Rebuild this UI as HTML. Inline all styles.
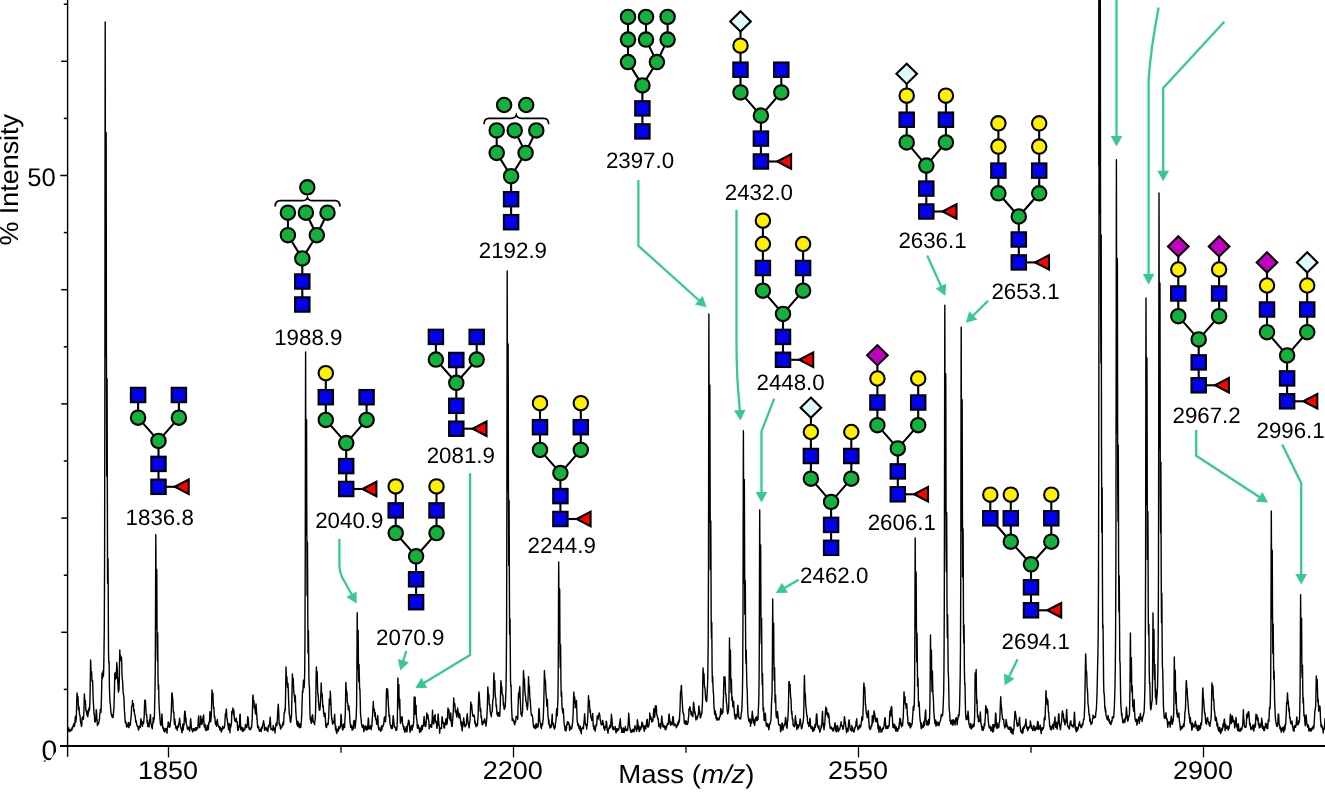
<!DOCTYPE html><html><head><meta charset="utf-8"><title>Mass spectrum</title><style>html,body{margin:0;padding:0;background:#fff}body{width:1325px;height:796px;overflow:hidden}svg{display:block;will-change:transform;opacity:0.9999}text{text-rendering:geometricPrecision;font-family:"Liberation Sans",Arial,Helvetica,sans-serif;fill:#000}</style></head><body>
<svg width="1325" height="796" viewBox="0 0 1325 796">
<rect width="1325" height="796" fill="#fff"/>
<path d="M68.00,731.35 L68.30,730.13 L68.60,727.68 L68.90,729.29 L69.20,730.05 L69.50,731.59 L69.80,731.42 L70.10,730.00 L70.40,730.98 L70.70,730.68 L71.00,729.96 L71.30,729.42 L71.60,728.67 L71.90,730.00 L72.20,727.27 L72.50,727.09 L72.80,728.02 L73.10,725.57 L73.40,726.42 L73.70,723.63 L74.00,724.69 L74.30,726.50 L74.60,725.82 L74.90,722.30 L75.20,718.39 L75.50,716.11 L75.80,722.11 L76.10,719.87 L76.40,715.64 L76.70,702.17 L77.00,693.00 L77.30,694.67 L77.60,701.51 L77.90,700.75 L77.95,696.36 L78.20,702.78 L78.50,709.62 L78.80,706.34 L79.10,707.97 L79.40,712.94 L79.70,715.14 L80.00,715.52 L80.30,720.05 L80.60,722.04 L80.90,723.54 L81.20,724.79 L81.50,726.42 L81.80,725.28 L82.10,718.55 L82.40,716.96 L82.70,717.55 L83.00,718.33 L83.30,719.33 L83.60,717.33 L83.90,712.44 L84.20,699.00 L84.40,694.00 L84.50,696.22 L84.80,701.76 L85.10,701.99 L85.35,701.20 L85.40,700.48 L85.70,708.09 L86.00,710.81 L86.30,710.17 L86.60,712.20 L86.90,715.04 L87.20,710.94 L87.50,713.85 L87.80,716.86 L88.10,713.64 L88.40,713.46 L88.70,710.48 L89.00,707.81 L89.30,710.38 L89.60,708.52 L89.90,702.62 L90.20,687.56 L90.50,665.09 L90.60,660.00 L90.80,664.50 L91.10,674.50 L91.40,672.64 L91.55,671.33 L91.70,673.00 L92.00,681.19 L92.30,681.60 L92.60,680.42 L92.90,690.58 L93.20,699.83 L93.50,703.51 L93.80,710.16 L94.10,714.64 L94.40,714.85 L94.70,721.53 L95.00,719.93 L95.30,721.95 L95.60,720.02 L95.90,719.04 L96.20,709.66 L96.50,711.24 L96.80,717.25 L97.10,720.98 L97.40,725.52 L97.70,723.48 L98.00,724.49 L98.30,723.70 L98.60,723.46 L98.90,722.12 L99.20,719.77 L99.50,718.95 L99.80,713.70 L100.10,713.22 L100.40,709.17 L100.70,710.69 L101.00,712.22 L101.30,703.47 L101.60,691.41 L101.90,677.61 L102.00,673.44 L102.20,672.93 L102.50,678.56 L102.80,674.56 L102.95,672.75 L103.10,670.74 L103.40,676.12 L103.70,669.46 L104.00,652.56 L104.30,627.14 L104.60,557.97 L104.90,359.77 L105.05,158.65 L105.20,22.05 L105.35,130.64 L105.50,292.73 L105.80,356.46 L106.00,217.39 L106.10,143.33 L106.15,132.80 L106.30,239.12 L106.40,339.73 L106.70,476.29 L106.95,418.27 L107.00,398.14 L107.10,378.75 L107.25,445.64 L107.30,473.41 L107.60,583.24 L107.90,570.13 L108.05,558.59 L108.20,585.66 L108.50,652.63 L108.80,662.94 L109.10,661.85 L109.40,686.23 L109.70,695.62 L110.00,702.83 L110.30,703.21 L110.60,708.37 L110.90,711.93 L111.20,714.46 L111.50,714.21 L111.80,716.50 L112.10,714.81 L112.40,716.70 L112.70,717.67 L113.00,717.67 L113.30,715.38 L113.60,711.60 L113.90,708.74 L114.20,699.72 L114.50,687.70 L114.80,673.18 L115.10,677.06 L115.40,679.16 L115.70,673.38 L115.75,672.50 L116.00,676.68 L116.30,678.38 L116.60,667.77 L116.80,662.53 L116.90,665.42 L117.20,667.25 L117.50,673.40 L117.75,682.70 L117.80,677.43 L118.10,687.44 L118.40,691.99 L118.70,690.80 L119.00,689.82 L119.30,679.31 L119.60,659.30 L119.80,650.01 L119.90,652.20 L120.20,659.96 L120.50,660.10 L120.75,657.08 L120.80,655.98 L121.10,660.73 L121.40,659.92 L121.50,657.10 L121.70,661.69 L122.00,674.97 L122.30,678.92 L122.45,679.64 L122.60,681.12 L122.90,687.62 L123.20,693.20 L123.50,694.49 L123.80,695.96 L124.10,702.51 L124.40,710.24 L124.70,713.18 L125.00,718.29 L125.30,722.72 L125.60,721.14 L125.90,722.83 L126.20,723.33 L126.50,726.79 L126.80,725.94 L127.10,726.94 L127.40,724.59 L127.70,725.18 L128.00,725.44 L128.30,722.46 L128.60,727.20 L128.90,727.64 L129.20,723.06 L129.50,725.88 L129.80,724.92 L130.10,725.19 L130.40,724.35 L130.70,719.42 L131.00,717.48 L131.30,714.90 L131.60,706.67 L131.90,706.43 L132.20,705.11 L132.50,700.54 L132.55,702.68 L132.80,705.88 L133.10,705.69 L133.40,703.61 L133.70,711.04 L134.00,711.04 L134.30,709.81 L134.35,711.64 L134.60,714.79 L134.90,715.57 L135.20,715.43 L135.50,719.29 L135.80,722.18 L136.10,720.69 L136.40,722.78 L136.70,723.68 L137.00,725.95 L137.30,725.87 L137.60,726.34 L137.90,726.24 L138.20,728.78 L138.50,730.14 L138.80,727.47 L139.10,728.72 L139.40,726.13 L139.70,726.50 L140.00,727.25 L140.30,727.59 L140.60,722.03 L140.90,718.77 L141.20,720.85 L141.50,721.09 L141.80,724.57 L142.10,724.61 L142.40,726.45 L142.70,724.20 L143.00,721.65 L143.30,723.73 L143.60,723.52 L143.90,719.73 L144.20,716.57 L144.50,706.16 L144.70,700.42 L144.80,701.52 L145.10,699.95 L145.40,701.00 L145.65,703.69 L145.70,706.35 L146.00,711.29 L146.30,714.86 L146.60,714.05 L146.90,718.29 L147.20,723.31 L147.50,720.63 L147.80,726.45 L148.10,723.87 L148.40,724.26 L148.70,724.99 L149.00,726.96 L149.30,723.19 L149.60,719.41 L149.90,720.53 L150.20,716.84 L150.50,714.41 L150.80,722.82 L151.10,723.94 L151.40,725.19 L151.70,727.06 L152.00,726.72 L152.30,728.80 L152.60,724.10 L152.90,723.78 L153.20,717.69 L153.50,722.34 L153.80,720.13 L154.10,719.18 L154.40,716.46 L154.70,703.81 L155.00,689.64 L155.30,665.87 L155.60,589.40 L155.65,570.01 L155.80,534.60 L155.90,549.46 L155.95,565.48 L156.20,628.55 L156.50,616.82 L156.60,593.30 L156.75,569.40 L156.80,574.83 L156.90,597.60 L157.10,643.63 L157.40,661.08 L157.55,645.78 L157.70,632.72 L157.85,652.82 L158.00,675.48 L158.30,689.53 L158.50,689.00 L158.60,684.77 L158.65,685.49 L158.80,692.80 L158.90,699.40 L159.20,708.45 L159.50,711.59 L159.80,715.70 L160.10,720.86 L160.40,723.98 L160.70,724.61 L161.00,725.60 L161.30,723.04 L161.60,720.55 L161.90,714.02 L162.20,718.15 L162.50,724.37 L162.80,728.41 L163.10,727.13 L163.40,727.48 L163.70,730.77 L164.00,728.57 L164.30,729.87 L164.60,731.99 L164.90,729.81 L165.20,731.27 L165.50,728.39 L165.80,729.10 L166.10,728.79 L166.40,728.97 L166.70,730.70 L167.00,733.26 L167.30,728.37 L167.60,726.46 L167.90,726.63 L168.20,721.96 L168.50,722.48 L168.80,725.10 L169.10,725.63 L169.40,727.38 L169.70,724.12 L170.00,726.74 L170.30,722.70 L170.60,721.58 L170.90,718.92 L171.20,713.38 L171.50,704.66 L171.80,693.00 L172.10,693.18 L172.40,696.86 L172.70,699.99 L172.75,698.51 L173.00,704.60 L173.30,712.15 L173.60,711.92 L173.90,711.94 L174.20,721.76 L174.50,724.30 L174.80,718.91 L175.10,722.69 L175.40,725.07 L175.70,727.26 L176.00,728.44 L176.30,727.69 L176.60,726.33 L176.90,728.08 L177.20,730.30 L177.50,727.24 L177.80,726.33 L178.10,727.60 L178.40,724.20 L178.70,725.23 L179.00,723.38 L179.30,721.27 L179.60,718.10 L179.90,720.91 L180.20,724.63 L180.50,727.00 L180.80,726.95 L181.10,728.30 L181.40,730.09 L181.70,731.42 L182.00,732.71 L182.30,728.67 L182.60,727.96 L182.90,723.91 L183.20,730.00 L183.50,726.59 L183.80,725.64 L184.10,724.09 L184.40,715.99 L184.70,711.50 L185.00,711.05 L185.30,713.35 L185.60,719.38 L185.90,722.47 L185.95,718.01 L186.20,723.01 L186.50,724.66 L186.80,725.43 L187.10,726.38 L187.40,729.06 L187.70,727.22 L188.00,728.90 L188.30,727.66 L188.60,729.33 L188.90,727.17 L189.20,727.86 L189.50,731.12 L189.80,729.31 L190.10,726.56 L190.40,721.69 L190.70,718.75 L191.00,722.26 L191.30,727.34 L191.60,728.83 L191.90,729.82 L192.20,729.35 L192.50,731.79 L192.80,729.56 L193.10,728.67 L193.40,730.97 L193.70,730.23 L194.00,729.43 L194.30,728.67 L194.60,728.99 L194.90,730.61 L195.20,730.59 L195.50,727.81 L195.80,729.77 L196.10,729.84 L196.40,727.67 L196.70,729.94 L197.00,728.54 L197.30,727.55 L197.60,728.41 L197.90,727.98 L198.20,721.23 L198.50,717.23 L198.80,715.89 L199.10,725.59 L199.40,724.87 L199.70,727.63 L200.00,724.45 L200.30,724.08 L200.60,723.89 L200.70,715.97 L200.90,718.07 L201.20,721.67 L201.50,720.71 L201.65,719.40 L201.80,724.51 L202.10,723.69 L202.40,719.70 L202.70,721.91 L203.00,716.77 L203.30,716.84 L203.60,714.99 L203.90,720.90 L204.20,726.63 L204.50,727.04 L204.80,725.15 L205.10,724.46 L205.40,729.48 L205.70,730.34 L206.00,727.94 L206.30,730.17 L206.60,730.19 L206.90,730.41 L207.20,725.31 L207.50,727.07 L207.80,729.50 L208.10,729.62 L208.40,729.44 L208.70,722.74 L209.00,723.89 L209.30,722.00 L209.60,720.23 L209.90,711.78 L210.20,715.61 L210.50,719.63 L210.80,721.79 L211.10,717.76 L211.40,714.10 L211.70,699.67 L212.00,690.00 L212.30,694.10 L212.60,698.61 L212.90,695.01 L212.95,693.25 L213.20,702.63 L213.50,708.37 L213.80,707.34 L214.10,711.53 L214.40,717.83 L214.70,716.28 L215.00,718.64 L215.30,722.75 L215.60,724.37 L215.90,723.74 L216.20,721.33 L216.50,726.39 L216.80,725.16 L217.10,721.83 L217.40,719.48 L217.70,723.24 L218.00,725.21 L218.30,725.44 L218.60,726.37 L218.90,727.12 L219.20,727.48 L219.50,726.73 L219.80,729.72 L220.10,727.24 L220.40,729.98 L220.70,727.90 L221.00,729.67 L221.30,731.98 L221.60,730.61 L221.90,728.55 L222.20,729.24 L222.50,729.55 L222.80,726.24 L223.10,727.06 L223.40,728.44 L223.70,727.41 L224.00,727.52 L224.30,727.77 L224.60,726.13 L224.90,722.54 L225.20,716.68 L225.30,714.00 L225.50,714.17 L225.80,714.17 L226.10,710.62 L226.25,710.01 L226.40,708.86 L226.70,715.81 L227.00,719.25 L227.30,719.36 L227.60,722.94 L227.90,725.37 L228.20,725.05 L228.50,729.83 L228.80,723.42 L229.10,725.75 L229.40,723.98 L229.70,728.53 L230.00,732.75 L230.30,724.76 L230.60,726.52 L230.90,726.96 L231.20,724.20 L231.50,722.05 L231.80,711.57 L232.10,710.99 L232.40,712.33 L232.70,710.23 L232.90,707.99 L233.00,710.46 L233.30,713.15 L233.60,714.76 L233.85,713.34 L233.90,710.25 L234.20,716.42 L234.50,719.30 L234.80,720.68 L235.10,719.90 L235.40,721.43 L235.70,721.65 L236.00,719.16 L236.30,718.09 L236.60,721.73 L236.90,721.83 L237.20,721.77 L237.50,727.25 L237.80,730.38 L238.10,730.38 L238.40,730.17 L238.70,727.37 L239.00,725.82 L239.30,727.02 L239.60,721.83 L239.90,714.79 L240.20,714.13 L240.50,725.17 L240.80,729.77 L241.10,727.37 L241.40,726.98 L241.70,728.81 L242.00,727.81 L242.30,731.23 L242.60,729.90 L242.90,727.79 L243.20,731.38 L243.50,729.17 L243.80,729.92 L244.10,729.76 L244.40,729.14 L244.70,730.05 L245.00,728.49 L245.30,725.94 L245.60,724.43 L245.90,725.44 L246.20,726.39 L246.50,727.56 L246.80,727.32 L247.10,726.70 L247.40,722.94 L247.70,716.79 L248.00,717.35 L248.30,719.18 L248.60,724.52 L248.90,727.74 L249.20,729.01 L249.50,728.34 L249.80,728.04 L250.10,729.81 L250.40,728.57 L250.70,729.18 L251.00,728.68 L251.30,727.23 L251.60,727.64 L251.90,722.71 L252.20,718.31 L252.50,709.71 L252.80,696.76 L253.00,695.04 L253.10,696.83 L253.40,700.63 L253.70,701.15 L253.95,700.73 L254.00,700.87 L254.30,707.97 L254.60,706.84 L254.90,706.32 L255.20,711.13 L255.50,713.93 L255.80,708.08 L256.00,704.06 L256.10,704.76 L256.40,709.87 L256.70,713.59 L256.95,719.81 L257.00,717.83 L257.30,721.62 L257.60,727.42 L257.90,727.74 L258.20,727.33 L258.50,726.09 L258.80,727.62 L259.10,730.65 L259.40,730.16 L259.70,731.22 L260.00,729.70 L260.30,730.16 L260.60,729.11 L260.90,729.90 L261.20,731.58 L261.50,727.22 L261.80,728.12 L262.10,728.57 L262.40,726.64 L262.70,725.25 L263.00,724.15 L263.30,722.31 L263.60,720.75 L263.90,724.33 L264.20,723.82 L264.50,730.38 L264.80,729.45 L265.10,729.19 L265.40,727.36 L265.70,728.75 L266.00,727.42 L266.30,729.06 L266.60,730.28 L266.90,729.88 L267.20,730.18 L267.50,728.21 L267.80,731.56 L268.10,728.82 L268.40,725.80 L268.70,727.47 L269.00,726.48 L269.30,724.82 L269.60,723.59 L269.90,721.14 L270.20,717.10 L270.50,721.89 L270.80,728.21 L271.10,729.48 L271.40,728.75 L271.70,729.22 L272.00,729.05 L272.30,729.21 L272.60,730.65 L272.90,729.66 L273.20,725.33 L273.50,728.20 L273.80,727.52 L274.10,729.98 L274.40,728.46 L274.70,729.27 L275.00,732.98 L275.30,728.34 L275.60,726.68 L275.90,725.45 L276.20,723.02 L276.50,722.72 L276.80,725.78 L277.10,723.58 L277.40,718.17 L277.70,712.21 L278.00,707.75 L278.30,704.16 L278.60,710.32 L278.90,716.01 L278.95,718.80 L279.20,723.63 L279.50,725.11 L279.80,724.00 L280.10,724.60 L280.40,728.51 L280.70,729.05 L281.00,726.45 L281.30,727.46 L281.60,727.46 L281.90,727.01 L282.20,725.97 L282.50,724.01 L282.80,724.38 L283.10,722.02 L283.40,724.93 L283.70,722.43 L284.00,714.62 L284.30,712.49 L284.60,712.73 L284.90,709.03 L285.20,710.38 L285.50,698.98 L285.80,681.22 L286.00,667.01 L286.10,669.01 L286.40,679.71 L286.70,679.90 L286.95,677.04 L287.00,679.21 L287.30,684.99 L287.60,687.44 L287.90,683.10 L288.20,687.80 L288.50,697.04 L288.80,704.58 L289.10,710.88 L289.40,715.20 L289.70,715.63 L290.00,717.38 L290.30,721.57 L290.60,722.42 L290.90,720.61 L291.20,717.39 L291.50,715.81 L291.80,703.88 L292.10,688.17 L292.40,674.00 L292.70,679.01 L293.00,685.22 L293.30,678.56 L293.35,681.58 L293.60,688.13 L293.90,692.55 L294.20,695.19 L294.50,696.04 L294.80,701.87 L295.10,695.26 L295.40,697.63 L295.70,708.69 L296.00,714.00 L296.30,718.30 L296.60,720.38 L296.90,724.32 L297.20,724.89 L297.50,725.78 L297.80,721.08 L298.10,726.64 L298.40,726.38 L298.70,723.11 L299.00,725.34 L299.30,726.53 L299.60,727.73 L299.90,724.03 L300.20,727.15 L300.50,724.52 L300.80,727.38 L301.10,722.59 L301.40,720.65 L301.70,714.84 L302.00,705.39 L302.30,696.28 L302.50,690.59 L302.60,691.24 L302.90,692.32 L303.20,685.29 L303.45,680.28 L303.50,681.77 L303.80,687.98 L304.10,687.75 L304.40,682.99 L304.70,671.41 L305.00,636.31 L305.30,530.21 L305.45,424.37 L305.60,352.01 L305.75,413.06 L305.90,502.05 L306.20,535.30 L306.40,459.49 L306.50,425.51 L306.55,419.69 L306.70,475.66 L306.80,524.50 L307.10,595.87 L307.35,563.44 L307.40,550.22 L307.50,541.96 L307.65,577.40 L307.70,594.86 L308.00,653.08 L308.30,640.99 L308.45,630.60 L308.60,646.86 L308.90,677.73 L309.20,685.51 L309.50,688.87 L309.80,708.31 L310.10,716.57 L310.40,719.86 L310.70,719.89 L311.00,721.83 L311.30,723.36 L311.60,721.09 L311.90,716.90 L312.20,716.71 L312.50,714.80 L312.80,716.96 L313.10,722.06 L313.40,721.79 L313.70,722.74 L314.00,722.46 L314.30,723.42 L314.60,724.57 L314.90,720.07 L315.20,719.90 L315.50,713.57 L315.80,699.77 L316.10,678.15 L316.30,670.04 L316.40,667.00 L316.70,674.08 L317.00,671.53 L317.25,673.25 L317.30,676.66 L317.60,688.86 L317.90,694.98 L318.20,694.78 L318.50,702.08 L318.80,704.43 L319.10,708.82 L319.40,710.06 L319.70,710.36 L320.00,708.89 L320.30,704.86 L320.60,700.03 L320.90,692.89 L321.20,682.94 L321.30,685.60 L321.50,691.03 L321.80,696.39 L322.10,693.69 L322.25,694.36 L322.40,697.32 L322.70,706.09 L323.00,707.20 L323.30,705.58 L323.60,713.12 L323.90,712.71 L324.20,716.46 L324.50,714.57 L324.80,713.28 L325.10,713.22 L325.40,718.14 L325.70,724.94 L326.00,726.96 L326.30,727.51 L326.60,727.35 L326.90,724.06 L327.20,724.75 L327.50,724.64 L327.80,723.32 L328.10,724.56 L328.40,720.99 L328.70,716.56 L329.00,708.42 L329.30,699.07 L329.60,703.72 L329.90,704.62 L330.00,701.62 L330.20,695.69 L330.25,691.30 L330.50,694.00 L330.80,700.53 L330.95,702.98 L331.10,706.96 L331.40,714.64 L331.70,719.06 L332.00,718.17 L332.30,722.04 L332.60,724.21 L332.90,721.12 L333.20,722.60 L333.50,721.63 L333.80,723.03 L334.10,722.89 L334.40,716.99 L334.70,714.20 L335.00,723.47 L335.30,726.39 L335.60,729.82 L335.90,726.32 L336.20,729.67 L336.50,732.60 L336.80,733.46 L337.10,729.91 L337.40,729.69 L337.70,728.89 L338.00,730.65 L338.30,731.21 L338.60,729.63 L338.90,726.50 L339.20,729.05 L339.50,727.38 L339.80,728.28 L340.10,726.96 L340.40,727.09 L340.70,722.63 L341.00,714.21 L341.30,716.27 L341.60,724.52 L341.90,724.62 L342.20,726.91 L342.50,729.18 L342.80,730.08 L343.10,728.98 L343.40,725.24 L343.70,723.86 L344.00,725.52 L344.30,725.37 L344.60,727.61 L344.90,719.70 L345.20,715.80 L345.50,704.27 L345.80,684.61 L345.90,682.40 L346.10,686.80 L346.40,693.04 L346.70,691.29 L346.85,691.99 L347.00,692.89 L347.30,702.56 L347.60,702.67 L347.90,703.45 L348.20,709.78 L348.50,708.42 L348.80,705.79 L349.10,707.48 L349.40,711.61 L349.70,716.78 L350.00,722.45 L350.30,723.74 L350.60,727.39 L350.90,724.77 L351.20,727.58 L351.50,726.60 L351.80,725.86 L352.10,730.12 L352.40,726.68 L352.70,729.96 L353.00,728.52 L353.30,728.56 L353.60,722.41 L353.90,721.16 L354.20,720.36 L354.50,721.12 L354.80,723.00 L355.10,728.21 L355.40,725.31 L355.70,722.32 L356.00,718.98 L356.30,715.61 L356.60,704.15 L356.90,670.00 L357.05,639.05 L357.20,612.80 L357.35,631.88 L357.50,661.33 L357.80,668.46 L358.00,647.25 L358.10,636.94 L358.15,630.31 L358.30,645.99 L358.40,662.22 L358.70,681.49 L358.95,672.44 L359.00,665.44 L359.10,664.42 L359.25,674.91 L359.30,674.45 L359.60,689.27 L359.90,688.78 L360.05,693.63 L360.20,699.50 L360.50,713.09 L360.80,716.80 L361.10,719.22 L361.40,723.01 L361.70,725.53 L362.00,725.75 L362.30,727.32 L362.60,725.80 L362.90,727.71 L363.20,724.94 L363.50,726.75 L363.80,731.60 L364.10,729.92 L364.40,727.13 L364.70,728.99 L365.00,727.43 L365.30,725.79 L365.60,726.92 L365.90,729.79 L366.20,730.02 L366.50,729.15 L366.80,727.29 L367.10,726.21 L367.40,729.67 L367.70,727.82 L368.00,723.32 L368.30,717.97 L368.60,719.48 L368.90,729.04 L369.20,726.29 L369.50,727.60 L369.80,728.60 L370.10,728.26 L370.40,727.87 L370.70,725.68 L371.00,725.36 L371.30,729.63 L371.60,725.94 L371.90,726.48 L372.20,720.00 L372.50,716.36 L372.80,710.35 L373.10,706.09 L373.30,701.49 L373.40,704.52 L373.70,710.33 L374.00,709.53 L374.25,710.62 L374.30,709.03 L374.60,712.96 L374.90,716.41 L375.20,712.34 L375.50,718.20 L375.80,719.52 L376.10,718.80 L376.40,721.25 L376.70,724.27 L377.00,721.74 L377.30,721.49 L377.60,715.44 L377.90,717.15 L378.20,725.92 L378.50,727.61 L378.80,729.56 L379.10,727.35 L379.40,729.74 L379.70,729.62 L380.00,730.35 L380.30,729.53 L380.60,731.38 L380.90,728.69 L381.20,727.30 L381.50,725.93 L381.80,730.06 L382.10,727.88 L382.40,726.53 L382.70,726.08 L383.00,726.46 L383.30,724.56 L383.60,724.66 L383.90,722.12 L384.20,718.56 L384.50,716.94 L384.80,720.91 L385.10,721.60 L385.40,721.71 L385.70,719.43 L386.00,713.65 L386.30,697.73 L386.60,688.60 L386.90,692.71 L387.20,697.39 L387.50,688.89 L387.55,688.93 L387.80,691.77 L388.10,698.71 L388.40,705.41 L388.70,709.08 L389.00,716.60 L389.30,714.89 L389.60,715.21 L389.90,722.95 L390.20,724.41 L390.50,725.52 L390.80,726.40 L391.10,727.85 L391.40,725.50 L391.70,728.60 L392.00,726.77 L392.30,728.42 L392.60,726.36 L392.90,720.03 L393.20,715.77 L393.50,718.25 L393.80,721.45 L394.10,724.20 L394.40,726.84 L394.70,726.78 L395.00,726.71 L395.30,727.85 L395.60,728.19 L395.90,730.50 L396.20,728.27 L396.50,730.21 L396.80,729.46 L397.10,726.62 L397.40,718.24 L397.70,694.98 L397.75,689.05 L397.90,678.00 L398.00,680.74 L398.05,685.80 L398.30,701.92 L398.60,701.89 L398.70,694.77 L398.85,686.64 L398.90,684.64 L399.00,693.33 L399.20,706.26 L399.50,708.62 L399.65,704.16 L399.80,699.21 L399.95,708.11 L400.10,714.41 L400.40,723.55 L400.60,718.78 L400.70,716.57 L400.75,718.92 L400.90,719.27 L401.00,720.60 L401.30,721.42 L401.60,718.03 L401.90,718.13 L402.20,716.96 L402.50,723.04 L402.80,724.35 L403.10,726.44 L403.40,726.00 L403.70,729.44 L404.00,726.55 L404.30,729.26 L404.60,731.10 L404.90,732.27 L405.20,728.54 L405.50,731.01 L405.80,728.57 L406.10,727.71 L406.40,726.37 L406.70,730.14 L407.00,731.86 L407.30,727.96 L407.60,725.57 L407.90,723.72 L408.20,724.66 L408.50,720.13 L408.80,720.44 L409.10,721.50 L409.40,724.75 L409.70,729.42 L410.00,732.27 L410.30,729.54 L410.60,728.05 L410.90,727.96 L411.20,725.52 L411.50,729.64 L411.80,727.33 L412.10,730.25 L412.40,726.03 L412.70,725.17 L413.00,727.00 L413.30,724.46 L413.60,723.44 L413.90,713.08 L414.05,701.24 L414.20,697.00 L414.35,703.25 L414.50,706.42 L414.80,714.21 L415.00,706.18 L415.10,702.48 L415.15,697.25 L415.30,701.72 L415.40,706.48 L415.70,713.56 L415.95,708.08 L416.00,707.45 L416.10,705.44 L416.25,712.01 L416.30,715.54 L416.60,718.90 L416.90,719.97 L417.05,721.81 L417.20,725.93 L417.50,728.21 L417.80,726.83 L418.10,724.96 L418.40,726.07 L418.70,727.07 L419.00,728.89 L419.30,729.17 L419.60,732.30 L419.90,730.85 L420.20,728.05 L420.50,731.76 L420.80,731.84 L421.10,730.33 L421.40,728.38 L421.70,725.69 L422.00,726.23 L422.30,729.57 L422.60,727.25 L422.90,725.12 L423.20,726.15 L423.50,724.67 L423.80,721.22 L424.10,716.57 L424.40,720.12 L424.70,721.54 L425.00,726.31 L425.30,724.48 L425.60,726.54 L425.90,725.24 L426.20,722.71 L426.50,718.94 L426.80,713.00 L427.10,716.81 L427.40,718.43 L427.70,716.12 L427.75,714.60 L428.00,716.04 L428.30,718.71 L428.60,719.52 L428.90,721.39 L429.20,728.76 L429.50,726.83 L429.80,726.98 L430.10,725.06 L430.40,724.78 L430.70,725.40 L431.00,726.64 L431.30,724.48 L431.60,727.40 L431.90,722.17 L432.20,719.27 L432.50,710.30 L432.80,716.76 L433.10,722.13 L433.40,723.83 L433.70,723.98 L434.00,720.85 L434.30,717.79 L434.60,715.78 L434.90,717.88 L435.20,714.69 L435.25,719.18 L435.50,721.46 L435.80,722.45 L436.10,721.22 L436.40,722.06 L436.70,727.35 L437.00,728.29 L437.30,724.94 L437.60,725.19 L437.90,717.33 L438.20,713.88 L438.50,719.67 L438.80,722.87 L439.10,725.08 L439.40,727.38 L439.70,733.19 L440.00,728.54 L440.30,728.33 L440.60,728.48 L440.90,727.61 L441.20,728.31 L441.50,728.52 L441.80,720.35 L442.10,716.79 L442.40,717.48 L442.70,723.11 L443.00,722.93 L443.30,723.00 L443.60,722.30 L443.90,727.17 L444.20,728.04 L444.50,728.01 L444.80,723.46 L445.10,725.08 L445.40,723.91 L445.70,720.53 L446.00,718.59 L446.30,722.40 L446.60,724.63 L446.90,723.90 L447.20,723.02 L447.50,717.28 L447.80,711.01 L448.00,708.00 L448.10,709.09 L448.40,711.86 L448.70,711.65 L448.95,710.64 L449.00,709.96 L449.30,718.21 L449.60,718.05 L449.90,716.72 L450.20,720.44 L450.50,718.71 L450.80,712.93 L451.10,719.07 L451.40,723.07 L451.70,726.29 L452.00,726.48 L452.30,725.45 L452.60,720.68 L452.90,717.40 L453.20,713.50 L453.50,704.78 L453.70,698.00 L453.80,698.59 L454.10,703.59 L454.40,704.65 L454.65,704.09 L454.70,703.54 L455.00,706.35 L455.30,711.84 L455.60,712.13 L455.90,710.32 L456.20,713.40 L456.50,714.97 L456.80,717.09 L457.10,716.53 L457.40,710.07 L457.70,708.00 L458.00,712.46 L458.30,711.47 L458.60,714.39 L458.65,715.84 L458.90,717.30 L459.20,718.09 L459.50,713.79 L459.80,714.01 L460.10,717.59 L460.40,719.06 L460.70,722.02 L461.00,723.81 L461.30,725.86 L461.60,722.00 L461.90,728.86 L462.20,730.90 L462.50,727.18 L462.80,726.54 L463.10,724.26 L463.40,720.32 L463.70,717.88 L464.00,721.09 L464.30,722.64 L464.60,725.39 L464.90,726.07 L465.20,726.90 L465.50,724.97 L465.80,725.64 L466.10,725.23 L466.40,724.85 L466.70,719.30 L467.00,715.76 L467.30,713.81 L467.60,718.23 L467.90,721.15 L468.20,722.74 L468.50,723.97 L468.80,726.05 L469.10,727.85 L469.40,724.85 L469.70,722.03 L470.00,720.88 L470.30,716.07 L470.60,705.98 L470.80,702.00 L470.90,703.19 L471.20,709.02 L471.50,706.51 L471.75,705.05 L471.80,707.85 L472.10,709.87 L472.40,713.60 L472.70,714.52 L473.00,716.41 L473.30,716.03 L473.60,716.20 L473.90,714.86 L474.20,716.03 L474.50,717.30 L474.80,723.09 L475.10,721.04 L475.40,723.47 L475.70,724.71 L476.00,726.73 L476.30,724.49 L476.60,725.61 L476.90,723.59 L477.20,724.59 L477.50,725.52 L477.80,720.07 L478.10,716.13 L478.40,705.15 L478.70,695.23 L478.80,693.68 L479.00,691.94 L479.30,695.87 L479.60,699.83 L479.75,702.51 L479.90,705.51 L480.20,711.21 L480.50,708.18 L480.80,710.12 L481.10,717.76 L481.40,716.04 L481.70,719.93 L482.00,724.19 L482.30,724.17 L482.60,724.89 L482.90,723.27 L483.20,721.55 L483.50,722.80 L483.80,722.30 L484.10,720.85 L484.40,719.57 L484.70,718.64 L485.00,721.41 L485.30,723.34 L485.60,723.17 L485.90,726.04 L486.20,723.80 L486.50,721.30 L486.80,717.86 L487.10,711.93 L487.40,705.49 L487.70,691.51 L487.80,687.00 L488.00,689.34 L488.30,695.84 L488.60,693.74 L488.75,695.91 L488.90,695.10 L489.20,703.83 L489.50,705.29 L489.80,704.27 L490.10,710.35 L490.40,712.47 L490.70,714.17 L491.00,714.94 L491.30,716.71 L491.60,712.85 L491.90,711.74 L492.20,711.49 L492.50,705.85 L492.80,700.25 L493.10,699.89 L493.40,697.32 L493.70,678.62 L493.90,673.00 L494.00,676.48 L494.30,686.35 L494.60,684.66 L494.85,680.77 L494.90,686.59 L495.20,694.75 L495.50,697.24 L495.80,698.84 L496.10,706.23 L496.40,704.84 L496.70,710.61 L497.00,714.10 L497.30,711.88 L497.60,715.89 L497.90,712.69 L498.20,716.09 L498.50,712.82 L498.80,713.56 L499.10,712.46 L499.40,714.75 L499.70,716.39 L500.00,711.27 L500.30,703.92 L500.60,691.59 L500.90,680.60 L501.20,684.14 L501.50,689.76 L501.80,687.23 L501.85,686.65 L502.10,693.69 L502.40,694.69 L502.70,694.71 L503.00,696.65 L503.30,704.99 L503.60,702.88 L503.90,707.07 L504.20,709.43 L504.50,709.10 L504.80,708.00 L505.10,707.36 L505.40,704.06 L505.70,695.86 L506.00,687.83 L506.30,668.78 L506.60,623.15 L506.90,489.93 L507.05,360.44 L507.20,271.00 L507.35,341.46 L507.50,447.35 L507.80,490.82 L508.00,397.86 L508.10,349.64 L508.15,343.84 L508.30,408.66 L508.40,474.42 L508.70,565.37 L508.95,523.41 L509.00,510.28 L509.10,500.31 L509.25,541.74 L509.30,560.71 L509.60,634.23 L509.90,625.70 L510.05,619.05 L510.20,639.66 L510.50,679.74 L510.80,686.12 L511.10,685.19 L511.40,701.65 L511.70,710.27 L512.00,716.09 L512.30,720.67 L512.60,718.06 L512.90,720.57 L513.20,719.73 L513.50,720.02 L513.80,721.15 L514.10,723.33 L514.40,723.19 L514.70,724.78 L515.00,721.23 L515.30,722.87 L515.60,722.20 L515.90,718.21 L516.20,716.43 L516.50,716.53 L516.80,716.88 L517.10,717.84 L517.40,716.42 L517.70,719.43 L518.00,708.87 L518.30,700.41 L518.50,693.41 L518.60,693.00 L518.90,697.77 L519.20,692.89 L519.45,689.63 L519.50,688.71 L519.80,686.41 L520.10,696.04 L520.40,702.35 L520.70,708.72 L521.00,714.58 L521.30,712.64 L521.60,714.95 L521.90,716.48 L522.20,712.60 L522.50,712.86 L522.80,703.34 L523.10,689.77 L523.40,675.16 L523.50,670.50 L523.70,674.88 L524.00,680.74 L524.30,680.62 L524.45,678.65 L524.60,684.09 L524.90,690.85 L525.20,695.25 L525.50,695.76 L525.80,700.84 L526.10,700.91 L526.40,702.74 L526.70,706.15 L527.00,706.21 L527.30,709.74 L527.60,707.74 L527.90,702.98 L528.20,692.19 L528.50,676.80 L528.80,684.04 L529.10,688.99 L529.40,685.86 L529.45,688.34 L529.70,694.30 L530.00,699.87 L530.30,699.89 L530.60,706.67 L530.90,710.31 L531.20,713.55 L531.50,715.63 L531.80,714.42 L532.10,715.20 L532.40,716.33 L532.70,717.67 L533.00,721.77 L533.30,724.99 L533.60,727.10 L533.90,725.69 L534.20,725.83 L534.50,727.79 L534.80,726.42 L535.10,728.70 L535.40,724.80 L535.70,727.60 L536.00,727.00 L536.30,723.66 L536.60,727.76 L536.90,727.72 L537.20,727.01 L537.50,724.57 L537.80,724.38 L538.10,726.81 L538.40,721.53 L538.70,711.48 L539.00,708.42 L539.30,710.11 L539.60,718.09 L539.90,721.86 L540.20,722.75 L540.50,723.44 L540.80,727.10 L541.10,723.83 L541.40,728.69 L541.70,725.55 L542.00,723.28 L542.30,725.32 L542.60,724.68 L542.90,720.30 L543.20,719.83 L543.50,711.03 L543.80,701.87 L544.10,687.86 L544.40,670.50 L544.70,675.54 L545.00,683.09 L545.30,680.80 L545.35,679.81 L545.60,683.75 L545.90,693.40 L546.20,695.23 L546.50,699.93 L546.80,706.38 L547.10,700.76 L547.40,699.36 L547.70,708.26 L548.00,716.68 L548.30,717.22 L548.60,723.64 L548.90,719.63 L549.20,725.26 L549.50,724.75 L549.80,726.83 L550.10,727.99 L550.40,725.10 L550.70,726.07 L551.00,726.69 L551.30,726.95 L551.60,723.21 L551.90,719.65 L552.20,714.30 L552.50,722.71 L552.80,723.68 L553.10,724.94 L553.40,723.45 L553.70,727.43 L554.00,726.06 L554.30,729.02 L554.60,728.70 L554.90,726.85 L555.20,727.04 L555.50,723.09 L555.80,721.93 L556.10,718.62 L556.40,711.90 L556.70,708.64 L557.00,710.90 L557.30,715.89 L557.60,706.28 L557.90,700.56 L558.20,678.01 L558.50,610.39 L558.55,594.95 L558.70,562.00 L558.80,574.39 L558.85,587.20 L559.10,643.28 L559.40,631.38 L559.50,607.21 L559.65,588.96 L559.70,591.28 L559.80,611.87 L560.00,655.90 L560.30,668.04 L560.45,655.40 L560.60,644.63 L560.75,660.31 L560.90,679.27 L561.20,696.25 L561.40,692.78 L561.50,691.95 L561.55,691.69 L561.70,694.99 L561.80,700.82 L562.10,709.14 L562.40,708.85 L562.70,712.85 L563.00,711.63 L563.30,708.68 L563.60,715.10 L563.90,719.21 L564.20,724.57 L564.50,725.86 L564.80,727.17 L565.10,730.43 L565.40,727.04 L565.70,726.12 L566.00,730.85 L566.30,729.46 L566.60,727.05 L566.90,724.03 L567.20,723.80 L567.50,721.59 L567.80,724.25 L568.10,722.89 L568.40,722.20 L568.70,722.39 L569.00,723.96 L569.30,725.09 L569.60,730.39 L569.90,725.69 L570.20,727.71 L570.50,728.03 L570.80,729.07 L571.10,727.43 L571.40,728.27 L571.70,728.70 L572.00,726.57 L572.30,724.49 L572.60,722.84 L572.90,718.24 L573.20,712.92 L573.50,701.52 L573.80,692.00 L574.10,698.83 L574.40,702.57 L574.70,697.04 L574.75,698.10 L575.00,702.32 L575.30,707.68 L575.60,705.30 L575.90,705.00 L576.20,702.14 L576.50,700.41 L576.80,710.51 L577.10,719.49 L577.40,722.55 L577.70,724.15 L578.00,725.85 L578.30,725.92 L578.60,724.06 L578.90,728.07 L579.20,728.68 L579.50,727.69 L579.80,726.79 L580.10,730.52 L580.40,726.31 L580.70,731.31 L581.00,730.86 L581.30,733.75 L581.60,729.19 L581.90,728.99 L582.20,727.99 L582.50,728.71 L582.80,728.08 L583.10,726.59 L583.40,728.74 L583.70,725.02 L584.00,722.18 L584.30,719.11 L584.60,713.62 L584.90,717.12 L585.20,723.17 L585.50,724.71 L585.80,723.99 L586.10,725.83 L586.40,726.03 L586.70,729.06 L587.00,724.33 L587.30,725.23 L587.60,720.01 L587.90,714.43 L588.20,704.06 L588.50,695.70 L588.80,701.38 L589.10,706.37 L589.40,700.62 L589.45,703.13 L589.70,707.72 L590.00,712.40 L590.30,709.88 L590.60,714.62 L590.90,717.21 L591.20,718.45 L591.50,718.23 L591.80,720.53 L592.10,719.85 L592.40,715.99 L592.70,713.54 L593.00,720.86 L593.30,726.51 L593.60,724.98 L593.90,729.26 L594.20,725.93 L594.50,728.39 L594.80,729.30 L595.10,731.13 L595.40,729.49 L595.70,727.47 L596.00,725.94 L596.30,724.00 L596.60,725.62 L596.90,721.76 L597.20,716.00 L597.50,717.11 L597.80,718.46 L598.10,719.10 L598.40,716.08 L598.70,714.58 L598.80,714.62 L599.00,713.31 L599.30,713.00 L599.60,714.60 L599.75,714.81 L599.90,716.54 L600.20,720.36 L600.50,719.76 L600.80,722.19 L601.10,724.76 L601.40,724.65 L601.70,723.44 L602.00,723.52 L602.30,724.90 L602.60,720.44 L602.90,721.24 L603.20,723.23 L603.50,723.93 L603.80,728.06 L604.10,728.41 L604.40,728.71 L604.70,730.27 L605.00,726.46 L605.30,727.49 L605.60,727.74 L605.90,727.33 L606.20,721.29 L606.50,721.67 L606.80,724.29 L607.10,729.00 L607.40,730.64 L607.70,730.39 L608.00,733.27 L608.30,730.43 L608.60,728.87 L608.90,728.52 L609.20,727.28 L609.50,728.36 L609.80,725.16 L610.10,726.85 L610.40,727.33 L610.70,726.63 L611.00,720.47 L611.30,717.61 L611.40,714.29 L611.60,716.54 L611.90,718.70 L612.20,722.57 L612.35,723.66 L612.50,728.40 L612.80,729.08 L613.10,726.69 L613.40,728.97 L613.70,729.91 L614.00,729.07 L614.30,729.33 L614.60,729.00 L614.90,728.59 L615.20,726.39 L615.50,728.67 L615.80,731.75 L616.10,732.94 L616.40,730.38 L616.70,728.80 L617.00,729.19 L617.30,731.18 L617.60,730.79 L617.90,729.00 L618.20,729.95 L618.50,729.09 L618.80,729.75 L619.10,727.78 L619.40,724.24 L619.70,723.51 L620.00,721.31 L620.30,718.69 L620.60,723.59 L620.90,728.20 L621.20,727.98 L621.50,727.74 L621.80,732.42 L622.10,731.90 L622.40,732.16 L622.70,728.92 L623.00,732.38 L623.30,727.84 L623.60,728.45 L623.90,730.79 L624.20,732.49 L624.50,729.14 L624.80,728.57 L625.10,729.83 L625.40,726.55 L625.70,729.87 L626.00,730.67 L626.30,729.09 L626.60,730.16 L626.90,730.67 L627.20,729.70 L627.50,729.22 L627.80,729.77 L628.10,724.59 L628.40,720.24 L628.70,713.19 L629.00,717.12 L629.30,721.47 L629.60,726.15 L629.90,727.71 L630.20,728.49 L630.50,731.75 L630.80,729.86 L631.10,731.95 L631.40,731.66 L631.70,732.46 L632.00,730.23 L632.30,731.45 L632.60,731.54 L632.90,729.25 L633.20,730.06 L633.50,729.62 L633.80,729.64 L634.10,731.88 L634.40,729.11 L634.70,726.61 L635.00,725.68 L635.30,727.51 L635.60,727.61 L635.90,728.57 L636.20,729.48 L636.50,731.24 L636.80,728.27 L637.10,725.57 L637.40,719.79 L637.70,721.27 L638.00,726.68 L638.30,729.63 L638.60,725.43 L638.90,729.21 L639.20,731.65 L639.50,731.17 L639.80,727.13 L640.10,727.88 L640.40,729.54 L640.70,729.58 L641.00,727.27 L641.30,725.89 L641.60,727.54 L641.90,722.03 L642.20,722.95 L642.50,723.04 L642.80,726.10 L643.10,725.07 L643.40,726.31 L643.70,729.01 L644.00,726.25 L644.30,731.41 L644.60,727.07 L644.90,726.00 L645.20,727.65 L645.50,728.63 L645.80,728.88 L646.10,726.20 L646.40,723.91 L646.70,720.70 L647.00,720.01 L647.30,719.33 L647.60,726.05 L647.90,727.07 L648.20,727.14 L648.50,725.51 L648.80,725.78 L649.10,723.94 L649.40,720.44 L649.70,717.88 L649.80,712.99 L650.00,715.79 L650.30,716.16 L650.60,716.24 L650.75,719.34 L650.90,716.76 L651.20,719.68 L651.50,719.40 L651.80,722.02 L652.10,720.77 L652.40,718.94 L652.70,721.29 L653.00,719.67 L653.30,716.25 L653.60,712.59 L653.90,708.77 L654.20,713.86 L654.50,717.19 L654.80,716.34 L655.10,709.16 L655.40,705.70 L655.70,711.65 L656.00,710.29 L656.30,711.77 L656.35,706.02 L656.60,713.27 L656.90,715.02 L657.20,715.62 L657.50,716.85 L657.80,718.84 L658.10,718.37 L658.40,720.47 L658.70,725.26 L659.00,726.70 L659.30,724.90 L659.60,724.69 L659.90,724.58 L660.20,723.69 L660.50,728.28 L660.80,727.27 L661.10,725.04 L661.40,721.30 L661.70,715.97 L662.00,718.33 L662.30,722.44 L662.60,722.66 L662.90,726.62 L663.20,724.61 L663.50,727.13 L663.80,725.31 L664.10,725.75 L664.40,727.44 L664.70,727.86 L665.00,728.94 L665.30,726.14 L665.60,729.32 L665.90,729.85 L666.20,727.64 L666.50,727.67 L666.80,725.45 L667.10,725.62 L667.40,723.39 L667.70,724.57 L668.00,724.19 L668.30,724.22 L668.60,720.07 L668.90,714.60 L669.20,714.10 L669.50,718.94 L669.80,721.74 L670.10,724.08 L670.40,721.43 L670.70,725.27 L671.00,722.46 L671.30,723.22 L671.60,724.01 L671.90,722.67 L672.20,724.59 L672.50,719.51 L672.80,716.87 L673.10,716.54 L673.40,718.52 L673.70,722.46 L674.00,725.81 L674.30,724.39 L674.60,724.85 L674.90,724.01 L675.20,724.84 L675.50,724.40 L675.80,724.98 L676.10,726.65 L676.40,727.74 L676.70,725.86 L677.00,725.30 L677.30,726.06 L677.60,724.18 L677.90,722.09 L678.20,724.74 L678.50,721.67 L678.80,723.25 L679.10,719.55 L679.40,721.53 L679.70,714.37 L680.00,709.78 L680.30,700.47 L680.50,691.39 L680.60,694.04 L680.90,693.49 L681.20,686.38 L681.45,685.45 L681.50,686.90 L681.80,695.54 L682.10,698.51 L682.40,704.00 L682.70,709.12 L683.00,712.44 L683.30,713.65 L683.60,713.22 L683.90,716.49 L684.20,721.65 L684.50,723.50 L684.80,721.65 L685.10,720.86 L685.40,722.62 L685.70,724.34 L686.00,724.30 L686.30,721.07 L686.60,722.26 L686.90,722.44 L687.20,724.44 L687.50,724.31 L687.80,722.61 L688.10,722.35 L688.40,717.88 L688.70,716.55 L689.00,708.83 L689.30,708.34 L689.60,709.50 L689.80,706.72 L689.90,706.92 L690.20,708.08 L690.50,711.38 L690.75,711.57 L690.80,711.41 L691.10,714.80 L691.40,711.74 L691.70,713.93 L692.00,715.70 L692.30,715.65 L692.60,716.29 L692.90,716.64 L693.20,709.54 L693.50,702.22 L693.80,703.04 L694.10,706.95 L694.30,709.22 L694.40,708.03 L694.70,713.57 L695.00,711.84 L695.25,714.22 L695.30,714.40 L695.60,716.21 L695.90,719.93 L696.20,716.80 L696.50,716.90 L696.80,718.31 L697.10,719.11 L697.40,715.73 L697.70,717.14 L698.00,714.74 L698.30,714.26 L698.60,711.44 L698.90,705.85 L699.20,708.85 L699.50,713.76 L699.80,710.89 L700.10,716.57 L700.40,717.91 L700.70,717.42 L701.00,715.87 L701.30,714.11 L701.60,713.26 L701.90,713.34 L702.20,707.54 L702.50,701.25 L702.80,680.05 L703.10,668.00 L703.40,675.74 L703.70,679.88 L704.00,673.75 L704.05,674.75 L704.30,684.37 L704.60,687.93 L704.90,687.53 L705.20,690.66 L705.50,696.45 L705.80,699.41 L706.10,700.77 L706.40,698.12 L706.70,701.57 L707.00,696.35 L707.30,690.43 L707.60,683.98 L707.90,669.02 L708.20,640.72 L708.50,562.79 L708.75,393.77 L708.80,354.42 L708.90,313.90 L709.05,380.69 L709.10,416.07 L709.40,521.68 L709.70,437.38 L709.85,385.08 L710.00,444.51 L710.30,569.70 L710.60,555.70 L710.65,541.83 L710.80,520.85 L710.90,543.20 L710.95,557.61 L711.20,623.92 L711.50,638.37 L711.60,628.96 L711.75,622.09 L711.80,626.41 L711.90,640.84 L712.10,667.42 L712.40,682.29 L712.70,676.45 L713.00,685.75 L713.30,692.11 L713.60,694.87 L713.90,705.38 L714.20,708.43 L714.50,712.82 L714.80,714.63 L715.10,710.77 L715.40,712.12 L715.70,713.53 L716.00,718.50 L716.30,714.69 L716.60,718.45 L716.90,720.03 L717.20,719.62 L717.50,719.89 L717.80,718.08 L718.10,718.39 L718.40,718.89 L718.70,719.35 L719.00,719.90 L719.30,718.40 L719.60,716.86 L719.90,716.19 L720.20,716.73 L720.50,711.65 L720.80,708.42 L721.10,709.71 L721.40,712.43 L721.70,714.36 L722.00,710.79 L722.30,713.05 L722.60,712.77 L722.90,712.38 L723.20,703.77 L723.50,696.36 L723.80,683.18 L724.00,676.80 L724.10,678.26 L724.40,685.03 L724.70,680.17 L724.95,677.95 L725.00,677.02 L725.30,683.97 L725.60,694.40 L725.90,694.08 L726.20,698.83 L726.50,703.48 L726.80,703.96 L727.10,709.48 L727.40,711.64 L727.70,713.79 L728.00,712.98 L728.30,710.76 L728.60,710.41 L728.90,700.57 L729.20,676.83 L729.35,653.83 L729.50,638.00 L729.65,653.21 L729.80,670.28 L730.10,679.09 L730.30,662.37 L730.40,651.60 L730.45,650.11 L730.60,663.45 L730.70,676.65 L731.00,692.43 L731.25,685.33 L731.30,682.28 L731.40,679.21 L731.55,687.66 L731.60,689.16 L731.90,700.56 L732.20,700.15 L732.35,696.95 L732.50,701.13 L732.80,706.81 L733.10,705.14 L733.40,701.19 L733.70,701.49 L734.00,708.34 L734.30,711.08 L734.60,716.06 L734.90,716.35 L735.20,718.94 L735.50,714.43 L735.80,716.55 L736.10,718.86 L736.40,714.79 L736.70,716.56 L737.00,716.82 L737.30,714.81 L737.60,707.47 L737.90,705.23 L738.20,709.25 L738.50,712.44 L738.80,717.40 L739.10,717.94 L739.40,718.34 L739.70,717.60 L740.00,718.85 L740.30,718.07 L740.60,719.05 L740.90,717.39 L741.20,713.93 L741.50,711.85 L741.80,710.49 L742.10,703.43 L742.40,694.13 L742.70,672.82 L743.00,612.98 L743.25,485.41 L743.30,460.04 L743.40,430.70 L743.55,477.44 L743.60,501.73 L743.90,583.14 L744.20,515.82 L744.35,479.76 L744.50,521.92 L744.80,614.31 L745.10,601.05 L745.15,591.55 L745.30,580.44 L745.40,594.65 L745.45,606.46 L745.70,656.49 L746.00,663.45 L746.10,652.79 L746.25,649.85 L746.30,652.85 L746.40,660.70 L746.60,673.21 L746.90,686.10 L747.20,690.26 L747.50,702.52 L747.80,711.45 L748.10,716.54 L748.40,717.60 L748.70,720.65 L749.00,720.42 L749.30,721.77 L749.60,721.44 L749.90,718.89 L750.20,719.08 L750.50,726.19 L750.80,723.29 L751.10,723.77 L751.40,722.72 L751.70,721.43 L752.00,715.65 L752.30,711.26 L752.60,715.60 L752.90,715.98 L753.20,719.81 L753.50,723.17 L753.80,719.18 L754.10,722.09 L754.40,724.05 L754.70,725.42 L755.00,721.84 L755.30,720.91 L755.60,717.96 L755.90,717.37 L756.20,717.86 L756.50,719.70 L756.80,716.69 L757.10,720.83 L757.40,720.10 L757.70,717.40 L758.00,719.59 L758.30,709.54 L758.60,705.74 L758.90,694.70 L759.20,667.73 L759.50,578.62 L759.55,557.05 L759.70,510.00 L759.80,527.15 L759.85,545.91 L760.10,615.75 L760.40,599.30 L760.50,571.66 L760.65,545.07 L760.70,548.36 L760.80,580.22 L761.00,631.95 L761.30,643.54 L761.45,629.72 L761.60,618.27 L761.75,638.32 L761.90,667.36 L762.20,684.76 L762.40,678.02 L762.50,673.09 L762.55,673.99 L762.70,682.92 L762.80,692.37 L763.10,710.86 L763.40,707.16 L763.70,709.22 L764.00,719.38 L764.30,720.60 L764.60,719.95 L764.90,717.01 L765.20,713.13 L765.50,714.73 L765.80,721.00 L766.10,723.81 L766.40,725.94 L766.70,723.86 L767.00,724.37 L767.30,723.47 L767.60,726.20 L767.90,726.86 L768.20,724.87 L768.50,726.04 L768.80,729.78 L769.10,728.43 L769.40,723.78 L769.70,723.78 L770.00,724.50 L770.30,722.77 L770.60,721.65 L770.90,720.35 L771.20,714.14 L771.50,702.74 L771.80,698.23 L772.10,690.91 L772.40,659.67 L772.55,624.48 L772.70,599.00 L772.85,618.96 L773.00,650.02 L773.30,661.60 L773.50,634.16 L773.60,627.01 L773.65,623.13 L773.80,641.30 L773.90,661.16 L774.20,680.22 L774.45,674.24 L774.50,668.55 L774.60,667.35 L774.75,677.01 L774.80,683.33 L775.10,702.53 L775.40,700.26 L775.55,694.88 L775.70,699.74 L776.00,712.69 L776.30,716.98 L776.60,714.13 L776.90,717.84 L777.20,715.29 L777.50,711.47 L777.80,715.22 L778.10,717.27 L778.40,722.69 L778.70,724.34 L779.00,725.11 L779.30,724.76 L779.60,725.00 L779.90,724.84 L780.20,724.82 L780.50,731.07 L780.80,731.65 L781.10,729.01 L781.40,729.51 L781.70,726.77 L782.00,722.89 L782.30,723.37 L782.60,726.85 L782.90,730.08 L783.20,728.48 L783.50,726.26 L783.80,726.78 L784.10,725.43 L784.40,723.99 L784.70,724.91 L785.00,723.66 L785.30,720.28 L785.60,717.34 L785.90,718.85 L786.20,723.28 L786.50,726.94 L786.80,725.15 L787.10,728.29 L787.40,721.75 L787.70,721.42 L788.00,716.03 L788.30,710.59 L788.60,698.74 L788.90,682.83 L789.00,681.40 L789.20,681.58 L789.50,686.60 L789.80,684.39 L789.95,684.08 L790.10,684.47 L790.40,692.57 L790.70,697.53 L791.00,698.19 L791.30,708.30 L791.60,713.92 L791.90,711.33 L792.20,717.52 L792.50,719.95 L792.80,719.03 L793.10,724.92 L793.40,725.78 L793.70,725.14 L794.00,726.46 L794.30,726.73 L794.60,725.86 L794.90,722.71 L795.20,718.01 L795.50,715.77 L795.80,720.87 L796.10,724.94 L796.40,721.84 L796.70,729.61 L797.00,727.86 L797.30,726.31 L797.60,724.60 L797.90,727.63 L798.20,728.09 L798.50,727.05 L798.80,726.78 L799.10,725.44 L799.40,724.41 L799.70,723.45 L800.00,719.15 L800.30,718.98 L800.60,721.39 L800.90,724.68 L801.20,726.70 L801.50,728.92 L801.80,728.38 L802.10,727.32 L802.40,725.86 L802.70,723.55 L803.00,722.31 L803.30,721.37 L803.60,715.97 L803.90,704.63 L804.20,685.21 L804.40,675.39 L804.50,678.15 L804.80,691.06 L805.10,696.08 L805.35,693.97 L805.40,695.81 L805.70,704.73 L806.00,707.19 L806.30,709.69 L806.60,713.74 L806.90,715.91 L807.20,715.80 L807.50,721.28 L807.80,723.63 L808.10,722.33 L808.40,722.39 L808.70,726.26 L809.00,726.61 L809.30,723.91 L809.60,723.61 L809.90,718.23 L810.20,718.91 L810.50,725.80 L810.80,726.67 L811.10,728.31 L811.40,728.56 L811.70,727.05 L812.00,726.40 L812.30,728.01 L812.60,731.27 L812.90,728.17 L813.20,731.28 L813.50,730.26 L813.80,727.65 L814.10,729.19 L814.40,730.05 L814.70,727.63 L815.00,724.53 L815.30,727.36 L815.60,724.83 L815.90,725.01 L816.20,717.63 L816.50,713.88 L816.80,713.84 L817.10,718.35 L817.40,723.83 L817.70,726.92 L818.00,727.01 L818.30,726.21 L818.60,728.49 L818.90,725.92 L819.20,729.07 L819.50,729.93 L819.80,732.18 L820.10,731.41 L820.40,730.12 L820.70,729.33 L821.00,728.27 L821.30,724.93 L821.60,727.30 L821.90,723.69 L822.20,716.52 L822.50,711.51 L822.80,720.43 L823.10,724.57 L823.40,723.72 L823.70,726.85 L824.00,729.74 L824.30,726.84 L824.60,725.63 L824.90,721.76 L825.20,715.96 L825.50,710.21 L825.70,710.60 L825.80,707.00 L826.10,709.77 L826.40,711.12 L826.65,708.56 L826.70,710.16 L827.00,715.05 L827.30,714.05 L827.60,712.69 L827.90,715.77 L828.20,717.44 L828.50,713.43 L828.80,715.25 L829.10,716.93 L829.40,722.84 L829.70,723.99 L830.00,726.61 L830.30,728.31 L830.60,726.93 L830.90,728.00 L831.20,726.88 L831.50,729.08 L831.80,727.92 L832.10,728.23 L832.40,729.56 L832.70,728.47 L833.00,731.19 L833.30,728.91 L833.60,730.63 L833.90,729.96 L834.20,727.06 L834.50,726.68 L834.80,723.79 L835.10,722.83 L835.40,724.91 L835.70,730.54 L836.00,728.88 L836.30,731.97 L836.60,731.12 L836.90,727.97 L837.20,725.34 L837.50,729.66 L837.80,726.43 L838.10,730.05 L838.40,731.63 L838.70,730.97 L839.00,729.64 L839.30,729.05 L839.60,729.51 L839.90,728.31 L840.20,726.82 L840.50,725.16 L840.80,724.90 L841.10,721.71 L841.40,725.47 L841.70,725.31 L842.00,726.38 L842.30,725.70 L842.60,727.46 L842.90,729.30 L843.20,728.82 L843.50,726.54 L843.80,726.14 L844.10,721.19 L844.40,716.73 L844.70,717.46 L845.00,723.34 L845.30,721.81 L845.60,724.01 L845.90,728.55 L846.20,728.62 L846.50,732.72 L846.80,729.78 L847.10,728.31 L847.40,731.16 L847.70,730.09 L848.00,731.38 L848.30,728.05 L848.60,723.16 L848.90,720.44 L849.20,719.83 L849.50,723.74 L849.80,725.84 L850.10,727.51 L850.40,729.97 L850.70,728.77 L851.00,729.87 L851.30,728.89 L851.60,730.98 L851.90,725.47 L852.20,728.15 L852.50,729.59 L852.80,727.91 L853.10,730.93 L853.40,730.45 L853.70,732.06 L854.00,731.93 L854.30,731.23 L854.60,729.52 L854.90,727.17 L855.20,727.49 L855.50,726.39 L855.80,725.71 L856.10,721.28 L856.40,722.92 L856.70,718.74 L857.00,725.81 L857.30,726.28 L857.60,727.26 L857.90,729.76 L858.20,729.07 L858.50,726.85 L858.80,728.93 L859.10,728.46 L859.40,725.07 L859.70,727.69 L860.00,726.10 L860.30,725.74 L860.60,727.04 L860.90,725.97 L861.20,722.50 L861.50,721.88 L861.80,717.05 L862.10,717.45 L862.40,720.28 L862.70,719.34 L863.00,712.40 L863.30,704.77 L863.60,690.41 L863.90,683.00 L864.20,687.26 L864.50,690.89 L864.80,687.17 L864.85,689.78 L865.10,695.30 L865.40,705.02 L865.70,704.79 L866.00,709.98 L866.30,712.95 L866.60,714.48 L866.90,714.85 L867.20,717.61 L867.50,715.11 L867.80,714.38 L868.10,710.75 L868.40,710.73 L868.70,719.85 L869.00,723.74 L869.30,727.52 L869.60,728.54 L869.90,729.23 L870.20,729.71 L870.50,727.13 L870.80,728.57 L871.10,726.73 L871.40,725.08 L871.70,725.99 L872.00,724.91 L872.30,715.76 L872.60,719.71 L872.90,722.56 L873.20,720.34 L873.50,719.04 L873.80,714.24 L874.00,711.96 L874.10,711.00 L874.40,712.37 L874.70,714.36 L874.95,715.64 L875.00,716.31 L875.30,719.42 L875.60,721.67 L875.90,718.29 L876.20,720.46 L876.50,721.83 L876.80,721.50 L877.10,718.31 L877.40,719.50 L877.70,722.68 L878.00,728.68 L878.30,724.21 L878.60,726.99 L878.90,732.31 L879.20,730.29 L879.50,726.34 L879.80,728.53 L880.10,726.62 L880.40,727.39 L880.70,729.16 L881.00,732.22 L881.30,731.03 L881.60,731.01 L881.90,731.57 L882.20,730.32 L882.50,728.10 L882.80,728.62 L883.10,729.37 L883.40,728.33 L883.70,726.98 L884.00,726.42 L884.30,722.99 L884.60,720.15 L884.90,717.61 L885.20,718.54 L885.50,723.39 L885.80,728.44 L886.10,728.57 L886.40,728.29 L886.70,726.39 L887.00,726.02 L887.30,728.32 L887.60,726.81 L887.90,728.37 L888.20,726.01 L888.50,726.89 L888.80,726.05 L889.10,726.30 L889.40,721.45 L889.70,715.33 L890.00,711.00 L890.30,712.60 L890.60,715.87 L890.90,710.33 L890.95,708.72 L891.20,707.61 L891.50,706.49 L891.80,708.14 L892.10,715.58 L892.40,717.52 L892.70,725.24 L893.00,727.44 L893.30,726.20 L893.60,724.21 L893.90,726.27 L894.20,727.95 L894.50,724.32 L894.80,727.18 L895.10,725.60 L895.40,728.46 L895.70,730.91 L896.00,731.08 L896.30,726.86 L896.60,730.44 L896.90,730.69 L897.20,728.60 L897.50,729.35 L897.80,731.19 L898.10,728.49 L898.40,728.00 L898.70,726.62 L899.00,728.55 L899.30,722.54 L899.60,724.74 L899.90,718.10 L900.20,718.90 L900.50,718.89 L900.80,721.84 L901.10,723.75 L901.40,726.76 L901.70,723.42 L902.00,725.84 L902.30,723.88 L902.60,725.45 L902.90,721.56 L903.20,718.45 L903.50,709.98 L903.80,700.45 L904.00,692.02 L904.10,692.00 L904.40,701.64 L904.70,699.76 L904.95,698.59 L905.00,696.76 L905.30,704.12 L905.60,703.25 L905.90,705.78 L906.20,708.38 L906.50,707.49 L906.80,703.81 L907.10,709.43 L907.40,715.81 L907.70,716.48 L908.00,723.76 L908.30,723.01 L908.60,723.93 L908.90,725.55 L909.20,723.88 L909.50,722.66 L909.80,723.79 L910.10,727.33 L910.40,727.92 L910.70,723.69 L911.00,726.90 L911.30,725.59 L911.60,725.55 L911.90,724.14 L912.20,723.34 L912.50,719.00 L912.80,714.70 L913.10,708.82 L913.40,706.31 L913.70,710.31 L914.00,707.14 L914.30,704.66 L914.60,683.85 L914.90,628.37 L915.05,575.86 L915.20,538.00 L915.35,567.05 L915.50,610.49 L915.80,628.29 L916.00,589.07 L916.10,573.39 L916.15,571.97 L916.30,601.39 L916.40,626.80 L916.70,661.85 L916.95,645.03 L917.00,639.87 L917.10,633.23 L917.25,650.68 L917.30,662.15 L917.60,686.15 L917.90,681.49 L918.05,678.28 L918.20,689.08 L918.50,706.27 L918.80,704.15 L919.10,701.88 L919.40,707.37 L919.70,715.12 L920.00,718.46 L920.30,721.39 L920.60,722.96 L920.90,725.75 L921.20,728.76 L921.50,723.06 L921.80,725.45 L922.10,725.36 L922.40,727.02 L922.70,727.68 L923.00,727.36 L923.30,727.21 L923.60,724.01 L923.90,721.43 L924.20,725.73 L924.50,725.10 L924.80,718.96 L925.10,716.54 L925.40,711.55 L925.70,710.01 L926.00,719.48 L926.30,720.41 L926.60,724.83 L926.90,723.30 L927.20,722.82 L927.50,721.30 L927.80,722.95 L928.10,725.27 L928.40,722.73 L928.70,719.35 L929.00,724.12 L929.30,723.31 L929.60,717.71 L929.90,705.92 L930.20,677.48 L930.35,649.99 L930.50,635.00 L930.65,651.59 L930.80,669.66 L931.10,678.74 L931.30,659.96 L931.40,650.15 L931.45,650.05 L931.60,665.91 L931.70,674.84 L932.00,691.54 L932.25,681.22 L932.30,675.67 L932.40,671.21 L932.55,674.23 L932.60,680.74 L932.90,692.73 L933.20,696.18 L933.35,697.90 L933.50,702.20 L933.80,711.55 L934.10,714.85 L934.40,719.17 L934.70,721.16 L935.00,723.57 L935.30,721.24 L935.60,719.95 L935.90,726.07 L936.20,724.24 L936.50,721.84 L936.80,723.56 L937.10,725.29 L937.40,721.84 L937.70,722.21 L938.00,724.17 L938.30,722.66 L938.60,724.98 L938.90,725.79 L939.20,724.95 L939.50,722.95 L939.80,722.64 L940.10,721.05 L940.40,720.65 L940.70,720.02 L941.00,716.50 L941.30,714.47 L941.60,716.90 L941.90,714.67 L942.20,715.53 L942.50,715.45 L942.80,713.10 L943.10,707.67 L943.40,700.25 L943.70,690.80 L944.00,667.01 L944.30,607.37 L944.60,431.14 L944.65,389.18 L944.80,305.20 L944.90,336.13 L944.95,371.95 L945.20,512.48 L945.50,475.59 L945.60,426.48 L945.75,373.90 L945.80,382.35 L945.90,436.11 L946.10,543.05 L946.40,571.71 L946.55,536.80 L946.70,512.43 L946.85,551.08 L947.00,602.41 L947.30,637.64 L947.50,622.57 L947.60,618.57 L947.65,614.75 L947.80,630.14 L947.90,644.25 L948.20,670.67 L948.50,676.73 L948.80,690.73 L949.10,707.34 L949.40,711.17 L949.70,713.23 L950.00,720.72 L950.30,720.33 L950.60,722.25 L950.90,723.99 L951.20,723.82 L951.50,723.19 L951.80,720.55 L952.10,719.86 L952.40,724.16 L952.70,725.06 L953.00,725.22 L953.30,721.54 L953.60,719.67 L953.90,720.90 L954.20,720.98 L954.50,723.13 L954.80,721.52 L955.10,724.99 L955.40,721.44 L955.70,718.79 L956.00,718.09 L956.30,717.65 L956.60,717.95 L956.90,721.67 L957.20,724.67 L957.50,719.98 L957.80,719.78 L958.10,717.65 L958.40,714.59 L958.70,716.69 L959.00,715.48 L959.30,712.61 L959.60,705.94 L959.90,691.24 L960.20,675.72 L960.50,646.41 L960.80,569.53 L961.05,403.73 L961.10,368.68 L961.20,327.10 L961.35,394.42 L961.40,428.06 L961.70,530.74 L962.00,445.07 L962.15,399.59 L962.30,456.05 L962.60,576.72 L962.90,565.75 L962.95,549.51 L963.10,528.65 L963.20,544.66 L963.25,561.41 L963.50,627.89 L963.80,643.09 L963.90,635.78 L964.05,625.02 L964.10,625.64 L964.20,640.56 L964.40,670.28 L964.70,684.59 L965.00,683.74 L965.30,701.71 L965.60,713.29 L965.90,716.96 L966.20,719.66 L966.50,718.17 L966.80,715.84 L967.10,719.66 L967.40,717.63 L967.70,715.73 L968.00,711.28 L968.30,713.97 L968.60,717.44 L968.90,724.01 L969.20,724.32 L969.50,725.72 L969.80,726.64 L970.10,727.84 L970.40,727.28 L970.70,723.56 L971.00,724.44 L971.30,729.01 L971.60,728.03 L971.90,727.88 L972.20,727.62 L972.50,725.57 L972.80,724.72 L973.10,724.26 L973.40,726.81 L973.70,725.56 L974.00,726.46 L974.30,722.34 L974.60,718.38 L974.90,700.14 L975.05,680.76 L975.20,673.00 L975.35,678.50 L975.50,689.73 L975.80,687.70 L976.00,675.12 L976.10,671.39 L976.15,669.52 L976.30,679.54 L976.40,689.22 L976.70,703.61 L976.95,699.23 L977.00,699.69 L977.10,700.00 L977.25,708.51 L977.30,711.62 L977.60,717.35 L977.90,717.44 L978.05,714.89 L978.20,717.73 L978.50,721.77 L978.80,721.18 L979.10,721.60 L979.40,720.00 L979.70,720.98 L980.00,716.30 L980.30,711.85 L980.60,716.88 L980.90,723.17 L981.20,723.97 L981.50,726.70 L981.80,727.98 L982.10,730.25 L982.40,726.47 L982.70,727.04 L983.00,728.26 L983.30,730.22 L983.60,728.49 L983.90,728.48 L984.20,724.13 L984.50,723.45 L984.80,725.47 L985.10,719.51 L985.40,716.04 L985.70,705.70 L986.00,707.98 L986.30,707.22 L986.60,708.15 L986.65,708.36 L986.90,713.08 L987.20,711.48 L987.50,709.52 L987.80,711.68 L988.10,718.08 L988.40,722.24 L988.70,724.12 L989.00,727.04 L989.30,727.68 L989.60,726.72 L989.90,728.33 L990.20,728.48 L990.50,726.14 L990.80,730.83 L991.10,730.01 L991.40,727.37 L991.70,729.10 L992.00,729.48 L992.30,730.84 L992.60,732.00 L992.90,724.55 L993.20,728.47 L993.50,731.21 L993.80,727.57 L994.10,724.62 L994.40,726.93 L994.70,726.86 L995.00,725.19 L995.30,718.79 L995.60,713.07 L995.90,713.80 L996.20,721.13 L996.50,728.17 L996.80,727.79 L997.10,726.50 L997.40,723.25 L997.70,728.27 L998.00,727.62 L998.30,727.28 L998.60,725.31 L998.90,727.14 L999.20,722.35 L999.50,722.52 L999.80,719.33 L1000.10,712.35 L1000.40,703.33 L1000.70,696.79 L1000.80,697.56 L1001.00,703.80 L1001.30,706.65 L1001.60,708.43 L1001.75,709.68 L1001.90,713.24 L1002.20,715.15 L1002.50,718.43 L1002.80,719.36 L1003.10,718.95 L1003.40,719.29 L1003.70,719.69 L1004.00,723.86 L1004.30,725.67 L1004.60,727.06 L1004.90,727.97 L1005.20,725.60 L1005.50,726.49 L1005.80,723.65 L1006.10,719.55 L1006.40,721.45 L1006.70,722.43 L1007.00,726.73 L1007.30,726.09 L1007.60,725.90 L1007.90,727.54 L1008.20,729.00 L1008.50,729.20 L1008.80,728.85 L1009.10,727.62 L1009.40,729.35 L1009.70,728.28 L1010.00,726.81 L1010.30,728.99 L1010.60,732.00 L1010.90,729.68 L1011.20,727.81 L1011.50,731.47 L1011.80,733.08 L1012.10,730.01 L1012.40,729.13 L1012.70,729.50 L1013.00,734.17 L1013.30,730.38 L1013.60,730.30 L1013.90,728.56 L1014.20,722.79 L1014.50,719.74 L1014.80,713.86 L1015.10,711.11 L1015.40,712.51 L1015.70,716.83 L1015.80,714.67 L1016.00,717.06 L1016.30,719.68 L1016.60,719.88 L1016.75,723.78 L1016.90,722.22 L1017.20,725.72 L1017.50,726.33 L1017.80,723.38 L1018.10,725.78 L1018.40,724.41 L1018.70,723.98 L1019.00,722.64 L1019.30,719.11 L1019.60,717.50 L1019.90,724.99 L1020.20,726.05 L1020.50,728.76 L1020.80,731.66 L1021.10,730.91 L1021.40,731.59 L1021.70,732.52 L1022.00,732.34 L1022.30,733.44 L1022.60,728.30 L1022.90,732.67 L1023.20,730.59 L1023.50,726.83 L1023.80,727.55 L1024.10,726.31 L1024.40,728.09 L1024.70,725.64 L1025.00,724.91 L1025.30,725.28 L1025.60,722.30 L1025.90,719.25 L1026.20,723.02 L1026.50,726.21 L1026.80,728.06 L1027.10,728.75 L1027.40,728.77 L1027.70,730.77 L1028.00,727.05 L1028.30,727.85 L1028.60,729.10 L1028.90,728.35 L1029.20,727.52 L1029.50,726.81 L1029.80,726.36 L1030.10,725.47 L1030.40,721.03 L1030.70,722.76 L1031.00,726.78 L1031.30,727.68 L1031.60,725.36 L1031.90,728.71 L1032.20,728.72 L1032.50,728.46 L1032.80,730.54 L1033.10,730.18 L1033.40,729.04 L1033.70,725.89 L1034.00,725.75 L1034.30,728.74 L1034.60,729.40 L1034.90,730.55 L1035.20,730.50 L1035.50,729.21 L1035.80,727.39 L1036.10,727.03 L1036.40,728.45 L1036.70,726.84 L1037.00,729.21 L1037.30,725.30 L1037.60,721.55 L1037.90,722.38 L1038.20,722.09 L1038.50,729.35 L1038.80,727.36 L1039.10,728.60 L1039.40,728.67 L1039.70,727.75 L1040.00,725.84 L1040.30,725.09 L1040.60,729.61 L1040.90,731.21 L1041.20,733.62 L1041.50,727.91 L1041.80,729.62 L1042.10,728.98 L1042.40,730.08 L1042.70,727.75 L1043.00,728.74 L1043.30,728.64 L1043.60,726.88 L1043.90,725.51 L1044.20,718.50 L1044.50,718.04 L1044.80,716.64 L1045.10,719.73 L1045.40,708.46 L1045.70,700.89 L1046.00,690.60 L1046.30,696.48 L1046.60,701.74 L1046.90,699.14 L1046.95,698.13 L1047.20,704.59 L1047.50,703.19 L1047.80,699.97 L1048.10,705.60 L1048.40,712.28 L1048.70,711.90 L1049.00,717.84 L1049.30,719.40 L1049.60,725.18 L1049.90,727.00 L1050.20,725.82 L1050.50,729.33 L1050.80,726.98 L1051.10,729.55 L1051.40,729.86 L1051.70,728.80 L1052.00,726.27 L1052.30,727.52 L1052.60,724.35 L1052.90,726.34 L1053.20,724.54 L1053.50,729.09 L1053.80,726.16 L1054.10,721.77 L1054.40,723.84 L1054.70,720.70 L1055.00,717.06 L1055.30,724.86 L1055.60,727.24 L1055.90,727.43 L1056.20,726.53 L1056.50,722.30 L1056.80,727.01 L1057.10,729.08 L1057.40,726.59 L1057.70,723.64 L1058.00,723.65 L1058.30,717.74 L1058.60,713.91 L1058.90,713.82 L1059.20,721.48 L1059.50,724.45 L1059.80,726.08 L1060.10,727.91 L1060.40,729.69 L1060.70,727.08 L1061.00,724.27 L1061.30,723.41 L1061.60,720.75 L1061.90,717.40 L1062.20,712.59 L1062.40,711.00 L1062.50,711.15 L1062.80,714.25 L1063.10,713.67 L1063.35,714.08 L1063.40,715.46 L1063.70,718.91 L1064.00,721.88 L1064.30,719.21 L1064.60,720.44 L1064.90,724.97 L1065.20,723.24 L1065.50,723.39 L1065.80,721.53 L1066.10,720.58 L1066.40,713.49 L1066.70,709.46 L1067.00,716.42 L1067.30,721.29 L1067.60,726.10 L1067.90,725.98 L1068.20,727.13 L1068.50,727.05 L1068.80,728.06 L1069.10,726.60 L1069.40,729.00 L1069.70,724.84 L1070.00,724.45 L1070.30,721.82 L1070.60,720.88 L1070.90,720.99 L1071.20,724.91 L1071.50,725.68 L1071.80,725.57 L1072.10,724.97 L1072.40,726.15 L1072.70,726.02 L1073.00,727.09 L1073.30,726.91 L1073.60,726.75 L1073.90,722.34 L1074.20,715.66 L1074.50,712.08 L1074.80,718.48 L1075.10,723.77 L1075.40,729.03 L1075.70,727.95 L1076.00,730.64 L1076.30,731.79 L1076.60,727.09 L1076.90,729.65 L1077.20,730.27 L1077.50,730.74 L1077.80,728.37 L1078.10,729.11 L1078.40,726.38 L1078.70,725.46 L1079.00,723.68 L1079.30,724.07 L1079.60,721.75 L1079.90,725.65 L1080.20,726.10 L1080.50,725.13 L1080.80,726.59 L1081.10,727.75 L1081.40,725.60 L1081.70,727.19 L1082.00,725.11 L1082.30,723.94 L1082.60,725.17 L1082.90,724.29 L1083.20,722.09 L1083.50,719.40 L1083.80,720.16 L1084.10,718.69 L1084.40,713.48 L1084.70,706.53 L1085.00,689.48 L1085.30,672.14 L1085.60,655.62 L1085.70,654.00 L1085.90,659.16 L1086.20,672.36 L1086.50,670.89 L1086.65,672.36 L1086.80,675.94 L1087.10,688.03 L1087.40,689.32 L1087.70,694.28 L1088.00,704.06 L1088.30,705.47 L1088.60,708.52 L1088.90,713.08 L1089.20,715.45 L1089.50,714.41 L1089.80,721.35 L1090.10,718.40 L1090.40,721.80 L1090.70,721.84 L1091.00,724.59 L1091.30,722.61 L1091.60,722.66 L1091.90,723.34 L1092.20,722.68 L1092.50,719.68 L1092.80,718.85 L1093.10,715.23 L1093.40,715.74 L1093.70,716.13 L1094.00,717.83 L1094.30,717.63 L1094.60,716.38 L1094.90,717.28 L1095.20,716.95 L1095.50,717.48 L1095.80,713.10 L1096.10,711.05 L1096.40,709.02 L1096.70,702.22 L1097.00,694.24 L1097.30,682.14 L1097.60,666.95 L1097.90,654.80 L1098.20,635.36 L1098.50,581.02 L1098.80,441.41 L1099.10,29.42 L1099.15,-5.00 L1099.30,-5.00 L1099.40,-5.00 L1099.45,-5.00 L1099.70,213.86 L1100.00,142.87 L1100.10,22.13 L1100.25,-5.00 L1100.30,-5.00 L1100.40,44.74 L1100.60,294.82 L1100.90,362.93 L1101.05,286.92 L1101.20,235.01 L1101.35,323.43 L1101.50,441.57 L1101.80,532.14 L1102.00,506.19 L1102.10,487.53 L1102.15,488.40 L1102.30,532.24 L1102.40,573.01 L1102.70,627.93 L1103.00,624.98 L1103.30,648.34 L1103.60,680.88 L1103.90,693.16 L1104.20,693.03 L1104.50,699.44 L1104.80,708.25 L1105.10,706.96 L1105.40,711.96 L1105.70,709.38 L1106.00,715.07 L1106.30,716.19 L1106.60,716.96 L1106.90,718.83 L1107.20,717.74 L1107.50,719.85 L1107.80,717.27 L1108.10,715.52 L1108.40,720.15 L1108.70,718.69 L1109.00,721.46 L1109.30,719.58 L1109.60,722.81 L1109.90,723.36 L1110.20,722.10 L1110.50,723.15 L1110.80,724.48 L1111.10,724.30 L1111.40,721.64 L1111.70,720.46 L1112.00,721.75 L1112.30,717.21 L1112.60,716.76 L1112.90,717.78 L1113.20,717.27 L1113.50,718.09 L1113.80,716.46 L1114.10,711.09 L1114.40,706.15 L1114.70,696.13 L1115.00,685.81 L1115.30,667.31 L1115.60,634.13 L1115.90,559.21 L1116.20,331.93 L1116.25,271.80 L1116.40,159.80 L1116.50,201.03 L1116.55,251.92 L1116.80,432.92 L1117.10,390.39 L1117.20,325.75 L1117.35,258.44 L1117.40,272.92 L1117.50,340.52 L1117.70,484.11 L1118.00,521.32 L1118.15,476.41 L1118.30,444.97 L1118.45,493.94 L1118.60,561.76 L1118.90,611.68 L1119.10,589.60 L1119.20,575.60 L1119.25,577.00 L1119.40,601.53 L1119.50,620.21 L1119.80,660.60 L1120.10,663.31 L1120.40,681.99 L1120.70,701.40 L1121.00,707.32 L1121.30,710.13 L1121.60,715.41 L1121.90,713.23 L1122.20,717.99 L1122.50,718.59 L1122.80,722.82 L1123.10,722.84 L1123.40,720.39 L1123.70,720.38 L1124.00,720.50 L1124.30,719.79 L1124.60,720.90 L1124.90,722.53 L1125.20,718.23 L1125.50,718.08 L1125.80,718.75 L1126.10,713.52 L1126.40,707.23 L1126.70,710.64 L1127.00,714.89 L1127.30,715.80 L1127.60,721.15 L1127.90,720.91 L1128.20,719.29 L1128.50,717.01 L1128.80,717.22 L1129.10,715.41 L1129.40,715.53 L1129.70,704.88 L1130.00,685.12 L1130.25,650.24 L1130.30,642.28 L1130.40,632.97 L1130.55,643.28 L1130.60,655.97 L1130.90,681.83 L1131.20,665.83 L1131.35,657.67 L1131.50,667.95 L1131.80,691.97 L1132.10,688.26 L1132.15,689.02 L1132.30,685.86 L1132.40,689.20 L1132.45,693.32 L1132.70,706.05 L1133.00,707.17 L1133.10,703.40 L1133.25,703.37 L1133.30,705.34 L1133.40,706.86 L1133.60,711.13 L1133.90,706.19 L1134.20,699.81 L1134.50,710.04 L1134.80,714.72 L1135.10,718.99 L1135.40,720.26 L1135.70,721.46 L1136.00,721.61 L1136.30,721.39 L1136.60,719.31 L1136.90,725.09 L1137.20,723.93 L1137.50,719.91 L1137.80,720.40 L1138.10,720.07 L1138.40,720.50 L1138.70,717.25 L1139.00,721.19 L1139.30,723.42 L1139.60,719.32 L1139.90,717.02 L1140.20,714.28 L1140.50,713.45 L1140.80,719.65 L1141.10,717.04 L1141.40,718.23 L1141.70,718.83 L1142.00,721.52 L1142.30,719.96 L1142.60,718.55 L1142.90,716.21 L1143.20,716.06 L1143.50,714.61 L1143.80,713.52 L1144.10,711.66 L1144.40,705.90 L1144.70,696.18 L1145.00,680.37 L1145.30,650.91 L1145.60,562.97 L1145.85,381.20 L1145.90,342.51 L1146.00,298.00 L1146.15,362.34 L1146.20,397.42 L1146.50,504.40 L1146.80,408.19 L1146.95,357.90 L1147.10,424.92 L1147.40,559.19 L1147.70,546.24 L1147.75,534.15 L1147.90,511.47 L1148.00,532.25 L1148.05,550.44 L1148.30,621.30 L1148.60,634.63 L1148.70,627.77 L1148.85,624.18 L1148.90,625.56 L1149.00,638.32 L1149.20,667.51 L1149.50,683.49 L1149.80,682.74 L1150.10,696.36 L1150.40,706.77 L1150.70,709.70 L1151.00,709.27 L1151.30,706.38 L1151.60,703.96 L1151.90,701.45 L1152.20,700.53 L1152.50,684.12 L1152.80,644.87 L1152.85,634.42 L1153.00,613.00 L1153.10,622.92 L1153.15,630.78 L1153.40,661.78 L1153.70,655.78 L1153.80,643.88 L1153.95,629.50 L1154.00,630.65 L1154.10,646.19 L1154.30,673.69 L1154.60,679.50 L1154.75,670.94 L1154.90,664.39 L1155.05,673.52 L1155.20,686.89 L1155.50,698.01 L1155.70,690.57 L1155.80,689.29 L1155.85,692.72 L1156.00,695.53 L1156.10,698.58 L1156.40,704.18 L1156.70,698.37 L1157.00,695.83 L1157.30,691.92 L1157.60,683.10 L1157.90,668.88 L1158.20,640.19 L1158.50,567.29 L1158.80,350.78 L1158.85,297.83 L1159.00,193.00 L1159.10,233.63 L1159.15,273.73 L1159.40,448.39 L1159.70,407.16 L1159.80,346.50 L1159.95,282.89 L1160.00,294.96 L1160.10,364.26 L1160.30,497.30 L1160.60,532.92 L1160.75,491.39 L1160.90,462.15 L1161.05,508.21 L1161.20,572.02 L1161.50,622.73 L1161.70,603.92 L1161.80,593.14 L1161.85,593.88 L1162.00,616.90 L1162.10,637.17 L1162.40,667.25 L1162.70,669.56 L1163.00,684.44 L1163.30,700.30 L1163.60,709.33 L1163.90,712.63 L1164.20,717.12 L1164.50,718.39 L1164.80,717.12 L1165.10,718.18 L1165.40,717.01 L1165.70,714.32 L1166.00,712.78 L1166.30,718.11 L1166.60,719.42 L1166.90,718.40 L1167.20,720.16 L1167.50,723.70 L1167.80,727.29 L1168.10,723.07 L1168.40,723.12 L1168.70,723.26 L1169.00,721.49 L1169.30,724.01 L1169.60,723.88 L1169.90,724.15 L1170.20,727.07 L1170.50,722.62 L1170.80,720.96 L1171.10,717.90 L1171.40,716.13 L1171.70,718.72 L1172.00,724.02 L1172.30,724.27 L1172.60,723.10 L1172.90,719.92 L1173.20,720.82 L1173.50,717.20 L1173.80,710.29 L1174.10,680.95 L1174.15,672.41 L1174.30,657.00 L1174.40,661.70 L1174.45,666.28 L1174.70,690.44 L1175.00,685.56 L1175.10,677.72 L1175.25,670.31 L1175.30,670.88 L1175.40,677.86 L1175.60,697.25 L1175.90,703.96 L1176.05,695.01 L1176.20,692.24 L1176.35,699.12 L1176.50,707.75 L1176.80,714.09 L1177.00,711.13 L1177.10,709.52 L1177.15,712.44 L1177.30,716.34 L1177.40,713.96 L1177.70,714.42 L1178.00,717.48 L1178.30,716.93 L1178.60,716.17 L1178.90,712.99 L1179.20,718.80 L1179.50,722.16 L1179.80,723.12 L1180.10,726.26 L1180.40,730.05 L1180.70,729.72 L1181.00,729.21 L1181.30,726.42 L1181.60,727.42 L1181.90,726.51 L1182.20,728.22 L1182.50,727.66 L1182.80,726.30 L1183.10,726.68 L1183.40,724.32 L1183.70,725.68 L1184.00,726.55 L1184.30,722.36 L1184.60,720.37 L1184.90,712.15 L1185.20,710.89 L1185.50,708.27 L1185.80,695.78 L1186.10,684.95 L1186.20,681.09 L1186.40,680.60 L1186.70,687.64 L1187.00,689.40 L1187.15,688.15 L1187.30,693.27 L1187.60,698.04 L1187.90,701.45 L1188.20,705.57 L1188.50,709.48 L1188.80,713.90 L1189.10,713.83 L1189.40,717.80 L1189.70,719.68 L1190.00,722.84 L1190.30,717.56 L1190.60,719.95 L1190.90,724.39 L1191.20,723.10 L1191.50,725.38 L1191.80,730.20 L1192.10,729.74 L1192.40,722.94 L1192.70,725.65 L1193.00,724.03 L1193.30,727.00 L1193.60,726.12 L1193.90,726.06 L1194.20,725.40 L1194.50,726.73 L1194.80,725.01 L1195.10,722.15 L1195.40,721.24 L1195.70,724.00 L1196.00,724.35 L1196.30,728.32 L1196.60,725.03 L1196.90,727.70 L1197.20,727.24 L1197.50,730.47 L1197.80,727.69 L1198.10,726.82 L1198.40,725.38 L1198.70,730.56 L1199.00,729.72 L1199.30,726.48 L1199.60,726.65 L1199.90,725.47 L1200.20,729.09 L1200.50,727.95 L1200.80,722.93 L1201.10,724.47 L1201.40,724.88 L1201.70,721.28 L1202.00,716.88 L1202.30,706.56 L1202.60,693.09 L1202.70,690.03 L1202.90,687.89 L1203.20,695.96 L1203.50,698.89 L1203.65,699.67 L1203.80,701.37 L1204.10,707.12 L1204.40,710.88 L1204.70,713.94 L1205.00,712.93 L1205.30,716.46 L1205.60,720.95 L1205.90,723.32 L1206.20,721.71 L1206.50,724.29 L1206.80,720.69 L1207.10,717.97 L1207.40,719.03 L1207.70,717.76 L1208.00,721.52 L1208.30,721.43 L1208.60,722.91 L1208.90,723.24 L1209.20,725.08 L1209.50,722.58 L1209.80,726.40 L1210.10,724.55 L1210.40,722.61 L1210.70,720.37 L1211.00,719.17 L1211.30,714.67 L1211.60,699.24 L1211.90,684.87 L1212.00,683.00 L1212.20,685.73 L1212.50,691.59 L1212.80,685.72 L1212.95,687.85 L1213.10,689.99 L1213.40,699.88 L1213.70,698.72 L1214.00,702.41 L1214.30,710.23 L1214.60,711.53 L1214.90,714.29 L1215.20,720.29 L1215.50,719.97 L1215.80,716.87 L1216.10,721.18 L1216.40,718.00 L1216.70,721.66 L1217.00,725.96 L1217.30,726.05 L1217.60,723.51 L1217.90,727.33 L1218.20,729.62 L1218.50,727.64 L1218.80,731.01 L1219.10,730.49 L1219.40,731.56 L1219.70,727.32 L1220.00,728.67 L1220.30,731.83 L1220.60,733.50 L1220.90,732.82 L1221.20,730.35 L1221.50,729.89 L1221.80,728.32 L1222.10,730.69 L1222.40,728.19 L1222.70,728.58 L1223.00,724.50 L1223.30,723.35 L1223.60,726.79 L1223.90,721.77 L1224.20,719.72 L1224.50,719.07 L1224.80,724.69 L1225.10,730.64 L1225.40,726.68 L1225.70,724.19 L1226.00,727.34 L1226.30,727.73 L1226.60,728.43 L1226.90,726.86 L1227.20,726.20 L1227.50,726.16 L1227.80,729.30 L1228.10,728.94 L1228.40,730.14 L1228.70,726.96 L1229.00,728.38 L1229.30,726.21 L1229.60,724.86 L1229.90,722.74 L1230.20,715.92 L1230.50,714.12 L1230.80,716.54 L1231.10,721.59 L1231.40,723.50 L1231.70,719.18 L1232.00,717.02 L1232.30,715.98 L1232.60,717.08 L1232.90,719.44 L1232.95,721.91 L1233.20,721.41 L1233.50,720.14 L1233.80,721.56 L1234.10,720.76 L1234.40,723.59 L1234.70,727.88 L1235.00,726.13 L1235.30,724.25 L1235.60,723.36 L1235.90,717.55 L1236.20,719.19 L1236.50,723.71 L1236.80,726.98 L1237.10,725.33 L1237.40,728.90 L1237.70,730.48 L1238.00,725.68 L1238.30,723.59 L1238.60,726.15 L1238.90,731.05 L1239.20,730.01 L1239.50,730.84 L1239.80,730.86 L1240.10,731.41 L1240.40,728.90 L1240.70,728.15 L1241.00,729.46 L1241.30,730.07 L1241.60,729.92 L1241.90,729.01 L1242.20,726.52 L1242.50,727.00 L1242.80,722.97 L1243.10,717.78 L1243.40,709.80 L1243.70,719.89 L1244.00,719.84 L1244.30,725.25 L1244.60,725.77 L1244.90,727.44 L1245.20,726.90 L1245.50,726.83 L1245.80,727.24 L1246.10,726.76 L1246.40,722.92 L1246.70,715.59 L1247.00,713.98 L1247.30,717.88 L1247.60,716.56 L1247.90,715.89 L1247.95,714.68 L1248.20,712.10 L1248.50,711.64 L1248.80,712.26 L1249.10,716.14 L1249.40,720.97 L1249.70,725.01 L1250.00,723.11 L1250.30,724.31 L1250.60,728.46 L1250.90,729.60 L1251.20,727.99 L1251.50,727.26 L1251.80,729.10 L1252.10,726.69 L1252.40,727.57 L1252.70,728.30 L1253.00,724.65 L1253.30,728.78 L1253.60,730.24 L1253.90,731.05 L1254.20,726.76 L1254.50,725.42 L1254.80,725.29 L1255.10,723.46 L1255.40,726.96 L1255.70,719.28 L1256.00,714.13 L1256.30,715.33 L1256.60,717.89 L1256.90,718.81 L1257.00,714.98 L1257.20,718.68 L1257.50,720.47 L1257.80,717.90 L1257.95,719.47 L1258.10,718.05 L1258.40,724.77 L1258.70,722.62 L1259.00,725.28 L1259.30,727.85 L1259.60,725.47 L1259.90,724.27 L1260.20,726.22 L1260.50,724.73 L1260.80,727.19 L1261.10,725.87 L1261.40,721.83 L1261.70,718.14 L1262.00,721.39 L1262.30,721.91 L1262.60,728.59 L1262.90,726.71 L1263.20,727.35 L1263.50,726.35 L1263.80,730.45 L1264.10,730.16 L1264.40,730.62 L1264.70,729.07 L1265.00,726.51 L1265.30,726.47 L1265.60,723.27 L1265.90,724.31 L1266.20,726.62 L1266.50,727.97 L1266.80,727.66 L1267.10,726.69 L1267.40,723.67 L1267.70,728.74 L1268.00,723.80 L1268.30,719.92 L1268.60,719.69 L1268.90,721.41 L1269.20,715.78 L1269.50,707.14 L1269.80,708.62 L1270.10,707.91 L1270.40,697.35 L1270.70,678.52 L1271.00,617.82 L1271.15,557.80 L1271.30,511.00 L1271.45,542.64 L1271.60,594.28 L1271.90,618.39 L1272.10,575.59 L1272.20,553.14 L1272.25,550.26 L1272.40,580.97 L1272.50,609.94 L1272.80,653.30 L1273.05,634.13 L1273.10,628.21 L1273.20,624.06 L1273.35,639.27 L1273.40,645.55 L1273.70,678.44 L1274.00,679.71 L1274.15,671.19 L1274.30,680.56 L1274.60,700.21 L1274.90,707.17 L1275.20,714.64 L1275.50,718.75 L1275.80,721.88 L1276.10,722.70 L1276.40,724.84 L1276.70,726.13 L1277.00,723.81 L1277.30,726.59 L1277.60,725.81 L1277.90,721.47 L1278.20,714.84 L1278.50,713.91 L1278.80,716.94 L1279.10,724.17 L1279.40,724.33 L1279.70,725.69 L1280.00,729.02 L1280.30,726.88 L1280.60,727.09 L1280.90,729.66 L1281.20,732.26 L1281.50,728.65 L1281.80,730.73 L1282.10,728.30 L1282.40,729.38 L1282.70,729.85 L1283.00,727.11 L1283.30,730.01 L1283.60,732.14 L1283.90,729.59 L1284.20,729.02 L1284.50,726.07 L1284.80,730.00 L1285.10,727.60 L1285.40,723.68 L1285.70,724.62 L1286.00,718.36 L1286.30,712.92 L1286.60,702.75 L1286.90,703.87 L1287.20,700.48 L1287.40,693.34 L1287.50,693.00 L1287.80,699.77 L1288.10,700.82 L1288.35,701.88 L1288.40,704.53 L1288.70,707.07 L1289.00,711.69 L1289.30,708.59 L1289.60,717.22 L1289.90,718.69 L1290.20,717.80 L1290.50,722.97 L1290.80,722.43 L1291.10,723.81 L1291.40,722.11 L1291.70,722.02 L1292.00,721.02 L1292.30,724.60 L1292.60,727.02 L1292.90,727.16 L1293.20,730.44 L1293.50,727.65 L1293.80,729.89 L1294.10,731.22 L1294.40,725.75 L1294.70,725.76 L1295.00,725.72 L1295.30,726.07 L1295.60,727.35 L1295.90,725.91 L1296.20,724.28 L1296.50,719.80 L1296.80,716.89 L1297.10,720.45 L1297.40,724.65 L1297.70,723.85 L1298.00,724.81 L1298.30,723.70 L1298.60,723.81 L1298.90,720.67 L1299.20,722.22 L1299.50,719.10 L1299.80,710.37 L1300.10,690.49 L1300.40,636.81 L1300.45,622.96 L1300.60,594.60 L1300.70,608.41 L1300.75,622.75 L1301.00,654.32 L1301.30,642.44 L1301.40,630.57 L1301.55,618.31 L1301.60,618.26 L1301.70,633.48 L1301.90,670.74 L1302.20,677.71 L1302.35,673.32 L1302.50,664.85 L1302.65,676.97 L1302.80,692.38 L1303.10,703.15 L1303.30,700.29 L1303.40,697.94 L1303.45,700.61 L1303.60,704.56 L1303.70,709.16 L1304.00,715.89 L1304.30,714.92 L1304.60,717.35 L1304.90,721.84 L1305.20,725.71 L1305.50,723.69 L1305.80,717.49 L1306.10,714.90 L1306.40,718.28 L1306.70,722.55 L1307.00,724.70 L1307.30,724.41 L1307.60,727.13 L1307.90,727.21 L1308.20,725.23 L1308.50,725.30 L1308.80,731.06 L1309.10,729.87 L1309.40,730.05 L1309.70,729.61 L1310.00,728.33 L1310.30,729.56 L1310.60,731.01 L1310.90,728.97 L1311.20,729.75 L1311.50,730.81 L1311.80,728.39 L1312.10,728.69 L1312.40,727.05 L1312.70,728.67 L1313.00,727.15 L1313.30,728.92 L1313.60,725.47 L1313.90,727.71 L1314.20,723.15 L1314.50,717.67 L1314.80,711.04 L1315.10,710.20 L1315.40,707.92 L1315.70,706.14 L1316.00,691.44 L1316.30,676.00 L1316.60,679.48 L1316.90,685.82 L1317.20,681.71 L1317.25,679.80 L1317.50,690.18 L1317.80,702.13 L1318.10,698.99 L1318.40,704.38 L1318.70,711.11 L1319.00,707.82 L1319.30,706.87 L1319.60,705.99 L1319.90,706.13 L1320.20,710.51 L1320.50,719.01 L1320.80,722.89 L1321.10,726.86 L1321.40,724.19 L1321.70,725.60 L1322.00,726.40 L1322.30,727.16 L1322.60,729.32 L1322.90,727.65 L1323.20,733.02 L1323.50,728.48 L1323.80,729.53 L1324.10,729.54 L1324.40,728.13 L1324.70,723.11 L1325.00,718.53 L1325.30,721.32" fill="none" stroke="#000" stroke-width="1.4" stroke-linejoin="round"/>
<path d="M1099.4,-2 V166" stroke="#000" stroke-width="2.3" fill="none"/>
<path d="M67.6,-2 V756.8" stroke="#000" stroke-width="1.4" fill="none"/><path d="M60,746.0 H1325" stroke="#000" stroke-width="2.1" fill="none"/><path d="M63.8,689.4 H68" stroke="#000" stroke-width="1.5"/><path d="M61.2,632.3 H68" stroke="#000" stroke-width="1.5"/><path d="M63.8,575.2 H68" stroke="#000" stroke-width="1.5"/><path d="M61.2,518.1 H68" stroke="#000" stroke-width="1.5"/><path d="M63.8,461.0 H68" stroke="#000" stroke-width="1.5"/><path d="M61.2,403.9 H68" stroke="#000" stroke-width="1.5"/><path d="M63.8,346.8 H68" stroke="#000" stroke-width="1.5"/><path d="M61.2,289.7 H68" stroke="#000" stroke-width="1.5"/><path d="M63.8,232.6 H68" stroke="#000" stroke-width="1.5"/><path d="M60.2,175.5 H68" stroke="#000" stroke-width="1.5"/><path d="M63.8,118.4 H68" stroke="#000" stroke-width="1.5"/><path d="M61.2,61.3 H68" stroke="#000" stroke-width="1.5"/><path d="M63.8,4.2 H68" stroke="#000" stroke-width="1.5"/><path d="M168.5,746 V757.4" stroke="#000" stroke-width="1.3"/><path d="M341.0,746 V752.8" stroke="#000" stroke-width="1.3"/><path d="M513.5,746 V757.4" stroke="#000" stroke-width="1.3"/><path d="M686.0,746 V752.8" stroke="#000" stroke-width="1.3"/><path d="M858.5,746 V757.4" stroke="#000" stroke-width="1.3"/><path d="M1031.0,746 V752.8" stroke="#000" stroke-width="1.3"/><path d="M1203.5,746 V757.4" stroke="#000" stroke-width="1.3"/><path d="M1376.0,746 V752.8" stroke="#000" stroke-width="1.3"/>
<g stroke="#000" stroke-width="2.1" stroke-linejoin="miter"><path d="M158.5,440.9 L158.5,486.8" fill="none"/><path d="M158.5,486.8 H178.5" fill="none"/><path d="M174.8,486.8 L188.7,479.6 L188.7,494.0 Z" fill="#ff0000"/><path d="M158.5,440.9 L138.1,417.7 L138.1,395.0" fill="none"/><path d="M158.5,440.9 L178.9,417.7 L178.9,395.0" fill="none"/><rect x="151.3" y="456.7" width="14.4" height="14.4" fill="#0000f0"/><rect x="151.3" y="479.6" width="14.4" height="14.4" fill="#0000f0"/><circle cx="138.1" cy="417.7" r="7.2" fill="#12b23c"/><rect x="130.9" y="387.8" width="14.4" height="14.4" fill="#0000f0"/><circle cx="178.9" cy="417.7" r="7.2" fill="#12b23c"/><rect x="171.7" y="387.8" width="14.4" height="14.4" fill="#0000f0"/><circle cx="158.5" cy="440.9" r="7.2" fill="#12b23c"/><path d="M302.3,258.5 L302.3,304.5" fill="none"/><path d="M302.3,258.5 L287.9,235.2 L287.9,212.7" fill="none"/><path d="M302.3,258.5 L316.8,235.2 L305.9,212.7 L305.9,212.7" fill="none"/><path d="M316.8,235.2 L327.5,212.7 L327.5,212.7" fill="none"/><path d="M275.2,206.6 q0,-6 5,-6 H302.5 q4,0 5,-3.2 q1,3.2 5,3.2 H334.9 q5,0 5,6" fill="none" stroke-width="1.7"/><rect x="295.1" y="274.3" width="14.4" height="14.4" fill="#0000f0"/><rect x="295.1" y="297.3" width="14.4" height="14.4" fill="#0000f0"/><circle cx="287.9" cy="235.2" r="7.2" fill="#12b23c"/><circle cx="316.8" cy="235.2" r="7.2" fill="#12b23c"/><circle cx="287.9" cy="212.7" r="7.2" fill="#12b23c"/><circle cx="305.9" cy="212.7" r="7.2" fill="#12b23c"/><circle cx="327.5" cy="212.7" r="7.2" fill="#12b23c"/><circle cx="307.3" cy="187.3" r="7.2" fill="#12b23c"/><circle cx="302.3" cy="258.5" r="7.2" fill="#12b23c"/><path d="M346.2,443.1 L346.2,489.0" fill="none"/><path d="M346.2,489.0 H366.2" fill="none"/><path d="M362.5,489.0 L376.4,481.8 L376.4,496.2 Z" fill="#ff0000"/><path d="M346.2,443.1 L325.8,419.9 L325.8,373.2" fill="none"/><path d="M346.2,443.1 L366.6,419.9 L366.6,397.2" fill="none"/><rect x="339.0" y="458.9" width="14.4" height="14.4" fill="#0000f0"/><rect x="339.0" y="481.8" width="14.4" height="14.4" fill="#0000f0"/><circle cx="325.8" cy="419.9" r="7.2" fill="#12b23c"/><rect x="318.6" y="390.0" width="14.4" height="14.4" fill="#0000f0"/><circle cx="325.8" cy="373.2" r="7.2" fill="#fff000"/><circle cx="366.6" cy="419.9" r="7.2" fill="#12b23c"/><rect x="359.4" y="390.0" width="14.4" height="14.4" fill="#0000f0"/><circle cx="346.2" cy="443.1" r="7.2" fill="#12b23c"/><path d="M456.3,382.8 L456.3,428.7" fill="none"/><path d="M456.3,428.7 H476.3" fill="none"/><path d="M472.6,428.7 L486.5,421.5 L486.5,435.9 Z" fill="#ff0000"/><path d="M456.3,382.8 L435.9,359.6 L435.9,336.9" fill="none"/><path d="M456.3,382.8 L476.7,359.6 L476.7,336.9" fill="none"/><path d="M456.3,382.8 L456.3,359.6" fill="none"/><rect x="449.1" y="398.6" width="14.4" height="14.4" fill="#0000f0"/><rect x="449.1" y="421.5" width="14.4" height="14.4" fill="#0000f0"/><circle cx="435.9" cy="359.6" r="7.2" fill="#12b23c"/><rect x="428.7" y="329.7" width="14.4" height="14.4" fill="#0000f0"/><circle cx="476.7" cy="359.6" r="7.2" fill="#12b23c"/><rect x="469.5" y="329.7" width="14.4" height="14.4" fill="#0000f0"/><rect x="449.1" y="352.8" width="14.4" height="14.4" fill="#0000f0"/><circle cx="456.3" cy="382.8" r="7.2" fill="#12b23c"/><path d="M416.1,556.3 L416.1,602.2" fill="none"/><path d="M416.1,556.3 L395.7,533.1 L395.7,486.4" fill="none"/><path d="M416.1,556.3 L436.5,533.1 L436.5,486.4" fill="none"/><rect x="408.9" y="572.1" width="14.4" height="14.4" fill="#0000f0"/><rect x="408.9" y="595.0" width="14.4" height="14.4" fill="#0000f0"/><circle cx="395.7" cy="533.1" r="7.2" fill="#12b23c"/><rect x="388.5" y="503.2" width="14.4" height="14.4" fill="#0000f0"/><circle cx="395.7" cy="486.4" r="7.2" fill="#fff000"/><circle cx="436.5" cy="533.1" r="7.2" fill="#12b23c"/><rect x="429.3" y="503.2" width="14.4" height="14.4" fill="#0000f0"/><circle cx="436.5" cy="486.4" r="7.2" fill="#fff000"/><circle cx="416.1" cy="556.3" r="7.2" fill="#12b23c"/><path d="M511.1,176.2 L511.1,222.2" fill="none"/><path d="M511.1,176.2 L496.7,152.9 L496.7,130.4" fill="none"/><path d="M511.1,176.2 L525.6,152.9 L514.7,130.4 L514.7,130.4" fill="none"/><path d="M525.6,152.9 L536.3,130.4 L536.3,130.4" fill="none"/><path d="M484.0,124.3 q0,-6 5,-6 H511.3 q4,0 5,-3.2 q1,3.2 5,3.2 H543.7 q5,0 5,6" fill="none" stroke-width="1.7"/><rect x="503.9" y="192.0" width="14.4" height="14.4" fill="#0000f0"/><rect x="503.9" y="215.0" width="14.4" height="14.4" fill="#0000f0"/><circle cx="496.7" cy="152.9" r="7.2" fill="#12b23c"/><circle cx="525.6" cy="152.9" r="7.2" fill="#12b23c"/><circle cx="496.7" cy="130.4" r="7.2" fill="#12b23c"/><circle cx="514.7" cy="130.4" r="7.2" fill="#12b23c"/><circle cx="536.3" cy="130.4" r="7.2" fill="#12b23c"/><circle cx="504.1" cy="105.0" r="7.2" fill="#12b23c"/><circle cx="526.2" cy="105.0" r="7.2" fill="#12b23c"/><circle cx="511.1" cy="176.2" r="7.2" fill="#12b23c"/><path d="M560.4,473.1 L560.4,519.0" fill="none"/><path d="M560.4,519.0 H580.4" fill="none"/><path d="M576.7,519.0 L590.6,511.8 L590.6,526.2 Z" fill="#ff0000"/><path d="M560.4,473.1 L540.0,449.9 L540.0,403.2" fill="none"/><path d="M560.4,473.1 L580.8,449.9 L580.8,403.2" fill="none"/><rect x="553.2" y="488.9" width="14.4" height="14.4" fill="#0000f0"/><rect x="553.2" y="511.8" width="14.4" height="14.4" fill="#0000f0"/><circle cx="540.0" cy="449.9" r="7.2" fill="#12b23c"/><rect x="532.8" y="420.0" width="14.4" height="14.4" fill="#0000f0"/><circle cx="540.0" cy="403.2" r="7.2" fill="#fff000"/><circle cx="580.8" cy="449.9" r="7.2" fill="#12b23c"/><rect x="573.6" y="420.0" width="14.4" height="14.4" fill="#0000f0"/><circle cx="580.8" cy="403.2" r="7.2" fill="#fff000"/><circle cx="560.4" cy="473.1" r="7.2" fill="#12b23c"/><path d="M642.4,85.4 L642.4,131.4" fill="none"/><path d="M642.4,85.4 L628.0,62.1 L628.0,16.9" fill="none"/><path d="M642.4,85.4 L656.9,62.1 L646.0,39.6 L646.0,16.9" fill="none"/><path d="M656.9,62.1 L667.6,39.6 L667.6,16.9" fill="none"/><rect x="635.2" y="101.2" width="14.4" height="14.4" fill="#0000f0"/><rect x="635.2" y="124.2" width="14.4" height="14.4" fill="#0000f0"/><circle cx="628.0" cy="62.1" r="7.2" fill="#12b23c"/><circle cx="656.9" cy="62.1" r="7.2" fill="#12b23c"/><circle cx="628.0" cy="39.6" r="7.2" fill="#12b23c"/><circle cx="646.0" cy="39.6" r="7.2" fill="#12b23c"/><circle cx="667.6" cy="39.6" r="7.2" fill="#12b23c"/><circle cx="628.0" cy="16.9" r="7.2" fill="#12b23c"/><circle cx="646.0" cy="16.9" r="7.2" fill="#12b23c"/><circle cx="667.6" cy="16.9" r="7.2" fill="#12b23c"/><circle cx="642.4" cy="85.4" r="7.2" fill="#12b23c"/><path d="M760.9,115.6 L760.9,161.5" fill="none"/><path d="M760.9,161.5 H780.9" fill="none"/><path d="M777.2,161.5 L791.1,154.3 L791.1,168.7 Z" fill="#ff0000"/><path d="M760.9,115.6 L740.5,92.4 L740.5,21.4" fill="none"/><path d="M760.9,115.6 L781.3,92.4 L781.3,69.7" fill="none"/><rect x="753.7" y="131.4" width="14.4" height="14.4" fill="#0000f0"/><rect x="753.7" y="154.3" width="14.4" height="14.4" fill="#0000f0"/><circle cx="740.5" cy="92.4" r="7.2" fill="#12b23c"/><rect x="733.3" y="62.5" width="14.4" height="14.4" fill="#0000f0"/><circle cx="740.5" cy="45.7" r="7.2" fill="#fff000"/><path d="M740.5,11.3 L750.8,21.4 L740.5,31.5 L730.2,21.4 Z" fill="#dffafa"/><circle cx="781.3" cy="92.4" r="7.2" fill="#12b23c"/><rect x="774.1" y="62.5" width="14.4" height="14.4" fill="#0000f0"/><circle cx="760.9" cy="115.6" r="7.2" fill="#12b23c"/><path d="M783.0,313.9 L783.0,359.8" fill="none"/><path d="M783.0,359.8 H803.0" fill="none"/><path d="M799.3,359.8 L813.2,352.6 L813.2,367.0 Z" fill="#ff0000"/><path d="M783.0,313.9 L762.9,290.7 L762.9,220.7" fill="none"/><path d="M783.0,313.9 L803.1,290.7 L803.1,244.0" fill="none"/><rect x="775.8" y="329.7" width="14.4" height="14.4" fill="#0000f0"/><rect x="775.8" y="352.6" width="14.4" height="14.4" fill="#0000f0"/><circle cx="762.9" cy="290.7" r="7.2" fill="#12b23c"/><rect x="755.7" y="260.8" width="14.4" height="14.4" fill="#0000f0"/><circle cx="762.9" cy="244.0" r="7.2" fill="#fff000"/><circle cx="762.9" cy="220.7" r="7.2" fill="#fff000"/><circle cx="803.1" cy="290.7" r="7.2" fill="#12b23c"/><rect x="795.9" y="260.8" width="14.4" height="14.4" fill="#0000f0"/><circle cx="803.1" cy="244.0" r="7.2" fill="#fff000"/><circle cx="783.0" cy="313.9" r="7.2" fill="#12b23c"/><path d="M831.1,501.9 L831.1,547.8" fill="none"/><path d="M831.1,501.9 L810.9,478.7 L810.9,407.7" fill="none"/><path d="M831.1,501.9 L851.3,478.7 L851.3,432.0" fill="none"/><rect x="823.9" y="517.7" width="14.4" height="14.4" fill="#0000f0"/><rect x="823.9" y="540.6" width="14.4" height="14.4" fill="#0000f0"/><circle cx="810.9" cy="478.7" r="7.2" fill="#12b23c"/><rect x="803.7" y="448.8" width="14.4" height="14.4" fill="#0000f0"/><circle cx="810.9" cy="432.0" r="7.2" fill="#fff000"/><path d="M810.9,397.6 L821.2,407.7 L810.9,417.8 L800.6,407.7 Z" fill="#dffafa"/><circle cx="851.3" cy="478.7" r="7.2" fill="#12b23c"/><rect x="844.1" y="448.8" width="14.4" height="14.4" fill="#0000f0"/><circle cx="851.3" cy="432.0" r="7.2" fill="#fff000"/><circle cx="831.1" cy="501.9" r="7.2" fill="#12b23c"/><path d="M897.8,448.4 L897.8,494.3" fill="none"/><path d="M897.8,494.3 H917.8" fill="none"/><path d="M914.1,494.3 L928.0,487.1 L928.0,501.5 Z" fill="#ff0000"/><path d="M897.8,448.4 L877.4,425.2 L877.4,355.3" fill="none"/><path d="M897.8,448.4 L918.2,425.2 L918.2,378.5" fill="none"/><rect x="890.6" y="464.2" width="14.4" height="14.4" fill="#0000f0"/><rect x="890.6" y="487.1" width="14.4" height="14.4" fill="#0000f0"/><circle cx="877.4" cy="425.2" r="7.2" fill="#12b23c"/><rect x="870.2" y="395.3" width="14.4" height="14.4" fill="#0000f0"/><circle cx="877.4" cy="378.5" r="7.2" fill="#fff000"/><path d="M877.4,345.2 L887.7,355.3 L877.4,365.4 L867.1,355.3 Z" fill="#c000c0"/><circle cx="918.2" cy="425.2" r="7.2" fill="#12b23c"/><rect x="911.0" y="395.3" width="14.4" height="14.4" fill="#0000f0"/><circle cx="918.2" cy="378.5" r="7.2" fill="#fff000"/><circle cx="897.8" cy="448.4" r="7.2" fill="#12b23c"/><path d="M926.3,165.6 L926.3,211.5" fill="none"/><path d="M926.3,211.5 H946.3" fill="none"/><path d="M942.6,211.5 L956.5,204.3 L956.5,218.7 Z" fill="#ff0000"/><path d="M926.3,165.6 L906.7,142.4 L906.7,73.8" fill="none"/><path d="M926.3,165.6 L945.9,142.4 L945.9,95.7" fill="none"/><rect x="919.1" y="181.4" width="14.4" height="14.4" fill="#0000f0"/><rect x="919.1" y="204.3" width="14.4" height="14.4" fill="#0000f0"/><circle cx="906.7" cy="142.4" r="7.2" fill="#12b23c"/><rect x="899.5" y="112.5" width="14.4" height="14.4" fill="#0000f0"/><circle cx="906.7" cy="95.7" r="7.2" fill="#fff000"/><path d="M906.7,63.7 L917.0,73.8 L906.7,83.9 L896.4,73.8 Z" fill="#dffafa"/><circle cx="945.9" cy="142.4" r="7.2" fill="#12b23c"/><rect x="938.7" y="112.5" width="14.4" height="14.4" fill="#0000f0"/><circle cx="945.9" cy="95.7" r="7.2" fill="#fff000"/><circle cx="926.3" cy="165.6" r="7.2" fill="#12b23c"/><path d="M1018.8,216.5 L1018.8,262.4" fill="none"/><path d="M1018.8,262.4 H1038.8" fill="none"/><path d="M1035.1,262.4 L1049.0,255.2 L1049.0,269.6 Z" fill="#ff0000"/><path d="M1018.8,216.5 L998.4,193.3 L998.4,123.3" fill="none"/><path d="M1018.8,216.5 L1039.2,193.3 L1039.2,123.3" fill="none"/><rect x="1011.6" y="232.3" width="14.4" height="14.4" fill="#0000f0"/><rect x="1011.6" y="255.2" width="14.4" height="14.4" fill="#0000f0"/><circle cx="998.4" cy="193.3" r="7.2" fill="#12b23c"/><rect x="991.2" y="163.4" width="14.4" height="14.4" fill="#0000f0"/><circle cx="998.4" cy="146.6" r="7.2" fill="#fff000"/><circle cx="998.4" cy="123.3" r="7.2" fill="#fff000"/><circle cx="1039.2" cy="193.3" r="7.2" fill="#12b23c"/><rect x="1032.0" y="163.4" width="14.4" height="14.4" fill="#0000f0"/><circle cx="1039.2" cy="146.6" r="7.2" fill="#fff000"/><circle cx="1039.2" cy="123.3" r="7.2" fill="#fff000"/><circle cx="1018.8" cy="216.5" r="7.2" fill="#12b23c"/><path d="M1031.0,564.3 L1031.0,610.3" fill="none"/><path d="M1031.0,610.3 H1051.0" fill="none"/><path d="M1047.3,610.3 L1061.2,603.1 L1061.2,617.5 Z" fill="#ff0000"/><path d="M1031.0,564.3 L1010.8,541.7 L1010.8,494.7" fill="none"/><path d="M1031.0,564.3 L1051.3,541.7 L1051.3,494.7" fill="none"/><path d="M1010.8,541.7 L990.3,518.3 L990.3,494.7" fill="none"/><rect x="1023.8" y="580.1" width="14.4" height="14.4" fill="#0000f0"/><rect x="1023.8" y="603.1" width="14.4" height="14.4" fill="#0000f0"/><circle cx="1010.8" cy="541.7" r="7.2" fill="#12b23c"/><circle cx="1051.3" cy="541.7" r="7.2" fill="#12b23c"/><rect x="983.1" y="511.1" width="14.4" height="14.4" fill="#0000f0"/><circle cx="990.3" cy="494.7" r="7.2" fill="#fff000"/><rect x="1003.6" y="511.1" width="14.4" height="14.4" fill="#0000f0"/><circle cx="1010.8" cy="494.7" r="7.2" fill="#fff000"/><rect x="1044.1" y="511.1" width="14.4" height="14.4" fill="#0000f0"/><circle cx="1051.3" cy="494.7" r="7.2" fill="#fff000"/><circle cx="1031.0" cy="564.3" r="7.2" fill="#12b23c"/><path d="M1198.7,339.4 L1198.7,385.3" fill="none"/><path d="M1198.7,385.3 H1218.7" fill="none"/><path d="M1215.0,385.3 L1228.9,378.1 L1228.9,392.5 Z" fill="#ff0000"/><path d="M1198.7,339.4 L1178.3,316.2 L1178.3,246.4" fill="none"/><path d="M1198.7,339.4 L1219.1,316.2 L1219.1,246.4" fill="none"/><rect x="1191.5" y="355.2" width="14.4" height="14.4" fill="#0000f0"/><rect x="1191.5" y="378.1" width="14.4" height="14.4" fill="#0000f0"/><circle cx="1178.3" cy="316.2" r="7.2" fill="#12b23c"/><rect x="1171.1" y="286.3" width="14.4" height="14.4" fill="#0000f0"/><circle cx="1178.3" cy="269.5" r="7.2" fill="#fff000"/><path d="M1178.3,236.3 L1188.6,246.4 L1178.3,256.5 L1168.0,246.4 Z" fill="#c000c0"/><circle cx="1219.1" cy="316.2" r="7.2" fill="#12b23c"/><rect x="1211.9" y="286.3" width="14.4" height="14.4" fill="#0000f0"/><circle cx="1219.1" cy="269.5" r="7.2" fill="#fff000"/><path d="M1219.1,236.3 L1229.4,246.4 L1219.1,256.5 L1208.8,246.4 Z" fill="#c000c0"/><circle cx="1198.7" cy="339.4" r="7.2" fill="#12b23c"/><path d="M1287.1,355.4 L1287.1,401.3" fill="none"/><path d="M1287.1,401.3 H1307.1" fill="none"/><path d="M1303.4,401.3 L1317.3,394.1 L1317.3,408.5 Z" fill="#ff0000"/><path d="M1287.1,355.4 L1267.0,332.2 L1267.0,262.4" fill="none"/><path d="M1287.1,355.4 L1307.2,332.2 L1307.2,262.4" fill="none"/><rect x="1279.9" y="371.2" width="14.4" height="14.4" fill="#0000f0"/><rect x="1279.9" y="394.1" width="14.4" height="14.4" fill="#0000f0"/><circle cx="1267.0" cy="332.2" r="7.2" fill="#12b23c"/><rect x="1259.8" y="302.3" width="14.4" height="14.4" fill="#0000f0"/><circle cx="1267.0" cy="285.5" r="7.2" fill="#fff000"/><path d="M1267.0,252.3 L1277.3,262.4 L1267.0,272.5 L1256.7,262.4 Z" fill="#c000c0"/><circle cx="1307.2" cy="332.2" r="7.2" fill="#12b23c"/><rect x="1300.0" y="302.3" width="14.4" height="14.4" fill="#0000f0"/><circle cx="1307.2" cy="285.5" r="7.2" fill="#fff000"/><path d="M1307.2,252.3 L1317.5,262.4 L1307.2,272.5 L1296.9,262.4 Z" fill="#dffafa"/><circle cx="1287.1" cy="355.4" r="7.2" fill="#12b23c"/></g>
<path d="M339.4,539 L339.4,566 Q339.6,572 342,577 L352.5,596.0" fill="none" stroke="#38c79c" stroke-width="2.3" stroke-linejoin="round"/><path d="M356.6,603.4 L346.4,597.0 L356.6,591.4 Z" fill="#38c79c" stroke="none"/><path d="M406.2,651 L402.8,662.4" fill="none" stroke="#38c79c" stroke-width="2.3" stroke-linejoin="round"/><path d="M400.4,670.6 L397.8,658.9 L408.9,662.2 Z" fill="#38c79c" stroke="none"/><path d="M470.1,473.3 L470.1,655 L422.6,683.8" fill="none" stroke="#38c79c" stroke-width="2.3" stroke-linejoin="round"/><path d="M415.3,688.2 L421.3,677.8 L427.3,687.7 Z" fill="#38c79c" stroke="none"/><path d="M638.4,180 L638.4,245.8 L700.3,301.5" fill="none" stroke="#38c79c" stroke-width="2.3" stroke-linejoin="round"/><path d="M706.6,307.2 L694.9,304.5 L702.7,295.9 Z" fill="#38c79c" stroke="none"/><path d="M736.5,209.8 L736.5,340 Q736.6,375 738.6,395 L739.9,412.1" fill="none" stroke="#38c79c" stroke-width="2.3" stroke-linejoin="round"/><path d="M740.5,420.6 L733.9,410.6 L745.5,409.7 Z" fill="#38c79c" stroke="none"/><path d="M774.2,398.7 L761.5,431.4 L761.5,494.0" fill="none" stroke="#38c79c" stroke-width="2.3" stroke-linejoin="round"/><path d="M761.5,502.5 L755.7,492.0 L767.3,492.0 Z" fill="#38c79c" stroke="none"/><path d="M798.6,579.8 L783.2,588.7" fill="none" stroke="#38c79c" stroke-width="2.3" stroke-linejoin="round"/><path d="M775.8,593.0 L782.0,582.7 L787.8,592.8 Z" fill="#38c79c" stroke="none"/><path d="M927.2,255.5 L941.8,287.9" fill="none" stroke="#38c79c" stroke-width="2.3" stroke-linejoin="round"/><path d="M945.3,295.7 L935.7,288.5 L946.3,283.7 Z" fill="#38c79c" stroke="none"/><path d="M988.0,300.7 L971.9,316.8" fill="none" stroke="#38c79c" stroke-width="2.3" stroke-linejoin="round"/><path d="M965.9,322.8 L969.2,311.3 L977.4,319.5 Z" fill="#38c79c" stroke="none"/><path d="M1017.6,659.2 L1008.4,678.0" fill="none" stroke="#38c79c" stroke-width="2.3" stroke-linejoin="round"/><path d="M1004.6,685.6 L1004.0,673.6 L1014.4,678.7 Z" fill="#38c79c" stroke="none"/><path d="M1116.5,-5 L1116.5,137.9" fill="none" stroke="#38c79c" stroke-width="2.3" stroke-linejoin="round"/><path d="M1116.5,146.4 L1110.7,135.9 L1122.3,135.9 Z" fill="#38c79c" stroke="none"/><path d="M1158.6,7.5 Q1150.5,50 1148.6,80 L1148.6,276.0" fill="none" stroke="#38c79c" stroke-width="2.3" stroke-linejoin="round"/><path d="M1148.6,284.5 L1142.8,274.0 L1154.4,274.0 Z" fill="#38c79c" stroke="none"/><path d="M1224.3,21.7 L1163.2,88 L1163.2,172.8" fill="none" stroke="#38c79c" stroke-width="2.3" stroke-linejoin="round"/><path d="M1163.2,181.3 L1157.4,170.8 L1169.0,170.8 Z" fill="#38c79c" stroke="none"/><path d="M1196.2,430 L1196.2,455.8 L1260.9,498.0" fill="none" stroke="#38c79c" stroke-width="2.3" stroke-linejoin="round"/><path d="M1268.0,502.6 L1256.0,501.7 L1262.4,492.0 Z" fill="#38c79c" stroke="none"/><path d="M1282.2,444.6 L1301.2,483 L1301.2,576.1" fill="none" stroke="#38c79c" stroke-width="2.3" stroke-linejoin="round"/><path d="M1301.2,584.6 L1295.4,574.1 L1307.0,574.1 Z" fill="#38c79c" stroke="none"/>
<g font-size="22.3" text-anchor="middle">
<text x="159.7" y="524.6">1836.8</text>
<text x="308.3" y="345.3">1988.9</text>
<text x="349.3" y="528.4">2040.9</text>
<text x="460.8" y="462.5">2081.9</text>
<text x="410.2" y="645.4">2070.9</text>
<text x="512.9" y="257.6">2192.9</text>
<text x="561.7" y="553.0">2244.9</text>
<text x="640.0" y="167.7">2397.0</text>
<text x="758.9" y="199.8">2432.0</text>
<text x="790.6" y="390.0">2448.0</text>
<text x="834.2" y="582.7">2462.0</text>
<text x="901.8" y="530.2">2606.1</text>
<text x="932.5" y="248.4">2636.1</text>
<text x="1025.5" y="298.9">2653.1</text>
<text x="1035.7" y="648.9">2694.1</text>
<text x="1206.6" y="422.6">2967.2</text>
<text x="1290.6" y="437.7">2996.1</text>
</g>
<g font-size="25.6" text-anchor="middle">
<text transform="translate(168.0,778.6) scale(1.055,1)">1850</text>
<text transform="translate(512.8,778.6) scale(1.055,1)">2200</text>
<text transform="translate(858.0,778.6) scale(1.055,1)">2550</text>
<text transform="translate(1203.0,778.6) scale(1.055,1)">2900</text>
<text x="41.5" y="186.0">50</text>
<text x="49.3" y="759.8" font-size="28.2">0</text>
</g>
<path d="M48.6,762.5 L57.5,749.5 V763 Z" fill="#fff"/><path d="M42.9,761.6 L45.4,759.9 L45.9,761.4 Z" fill="#000"/>
<text transform="translate(686.4,783.4) scale(1.06,1)" font-size="26" text-anchor="middle">Mass (<tspan font-style="italic">m/z</tspan>)</text>
<text transform="translate(18.1,245.6) rotate(-90) scale(1.035,1)" font-size="26">% Intensity</text>
</svg></body></html>
